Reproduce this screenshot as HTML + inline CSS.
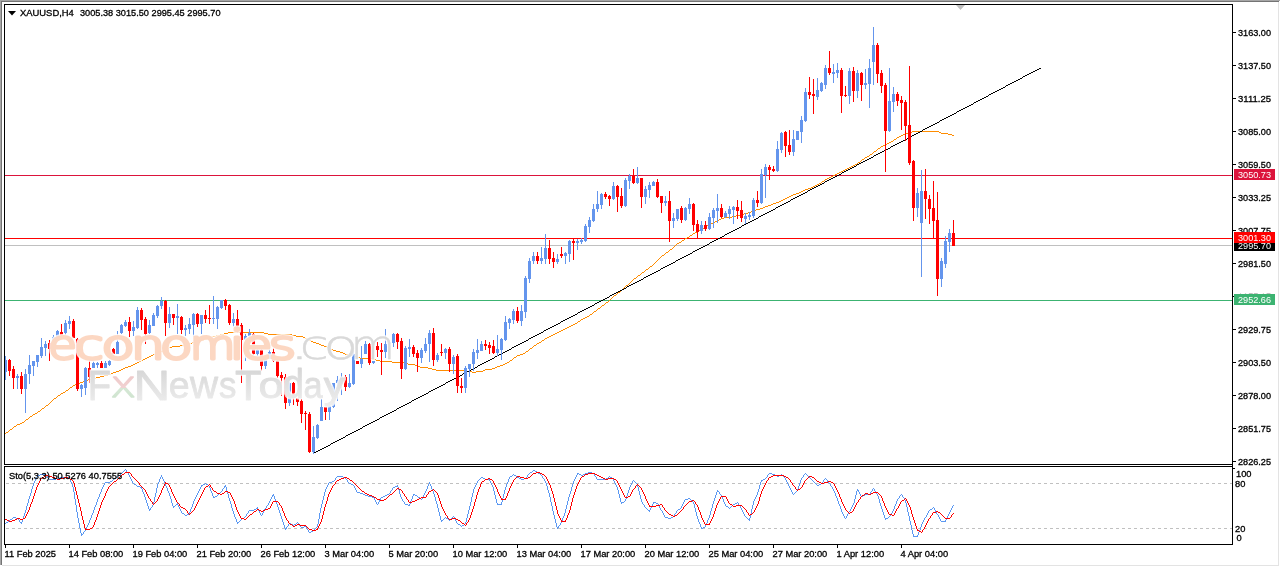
<!DOCTYPE html>
<html><head><meta charset="utf-8"><title>XAUUSD,H4</title>
<style>html,body{margin:0;padding:0;background:#fff;}body{width:1280px;height:567px;overflow:hidden;position:relative;font-family:"Liberation Sans",sans-serif;}svg{position:absolute;left:0;top:0;display:block;font-family:"Liberation Sans",sans-serif;}
.wm{position:absolute;white-space:nowrap;line-height:1;font-family:"Liberation Sans",sans-serif;}
</style></head><body>
<svg width="1280" height="567" viewBox="0 0 1280 567">
<g shape-rendering="crispEdges">
<rect x="0" y="0" width="1280" height="567" fill="#fff"/>
<rect x="0" y="0" width="1280" height="1" fill="#a6a6a6"/><rect x="0" y="1" width="1279" height="1" fill="#747474"/>
<rect x="0" y="0" width="1" height="565" fill="#a6a6a6"/><rect x="1" y="1" width="1" height="564" fill="#747474"/>
<rect x="1278" y="2" width="1" height="564" fill="#e3e3e3"/><rect x="2" y="565" width="1277" height="1" fill="#e3e3e3"/>
<g fill="#000">
<rect x="4" y="4" width="1229" height="1"/>
<rect x="4" y="4" width="1" height="461"/>
<rect x="4" y="464" width="1229" height="1"/>
<rect x="4" y="466" width="1229" height="1"/>
<rect x="4" y="466" width="1" height="79"/>
<rect x="4" y="544" width="1229" height="1"/>
<rect x="1232" y="4" width="1" height="541"/>
<rect x="1233" y="32" width="3" height="1"/>
<rect x="1233" y="65" width="3" height="1"/>
<rect x="1233" y="98" width="3" height="1"/>
<rect x="1233" y="131" width="3" height="1"/>
<rect x="1233" y="164" width="3" height="1"/>
<rect x="1233" y="197" width="3" height="1"/>
<rect x="1233" y="230" width="3" height="1"/>
<rect x="1233" y="263" width="3" height="1"/>
<rect x="1233" y="296" width="3" height="1"/>
<rect x="1233" y="329" width="3" height="1"/>
<rect x="1233" y="362" width="3" height="1"/>
<rect x="1233" y="395" width="3" height="1"/>
<rect x="1233" y="428" width="3" height="1"/>
<rect x="1233" y="461" width="3" height="1"/>
<rect x="5" y="545" width="1" height="3"/>
<rect x="69" y="545" width="1" height="3"/>
<rect x="133" y="545" width="1" height="3"/>
<rect x="197" y="545" width="1" height="3"/>
<rect x="261" y="545" width="1" height="3"/>
<rect x="325" y="545" width="1" height="3"/>
<rect x="389" y="545" width="1" height="3"/>
<rect x="453" y="545" width="1" height="3"/>
<rect x="517" y="545" width="1" height="3"/>
<rect x="581" y="545" width="1" height="3"/>
<rect x="645" y="545" width="1" height="3"/>
<rect x="709" y="545" width="1" height="3"/>
<rect x="773" y="545" width="1" height="3"/>
<rect x="837" y="545" width="1" height="3"/>
<rect x="901" y="545" width="1" height="3"/>
<rect x="1233" y="468" width="2" height="1"/>
</g>
<path d="M956 5h9l-4.5 5z" fill="#c0c0c0" shape-rendering="auto"/>
<rect x="5" y="175" width="1227" height="1" fill="#DC143C"/>
<rect x="5" y="245" width="1227" height="1" fill="#C0C0C0"/>
<rect x="5" y="238" width="1227" height="1" fill="#FF0000"/>
<rect x="5" y="300" width="1227" height="1" fill="#3CB371"/>
<path fill="#FF8C00" d="M912 131h27v1h-27zM908 132h4v1h-4zM939 132h2v1h-2zM905 133h3v1h-3zM941 133h7v1h-7zM903 134h2v1h-2zM948 134h4v1h-4zM901 135h2v1h-2zM952 135h2v1h-2zM899 136h2v1h-2zM897 137h2v1h-2zM896 138h1v1h-1zM894 139h2v1h-2zM893 140h1v1h-1zM891 141h2v1h-2zM889 142h2v1h-2zM887 143h2v1h-2zM885 144h2v1h-2zM883 145h2v1h-2zM881 146h2v1h-2zM880 147h1v1h-1zM878 148h2v1h-2zM877 149h1v1h-1zM876 150h1v1h-1zM874 151h2v1h-2zM873 152h1v1h-1zM872 153h1v1h-1zM870 154h2v1h-2zM869 155h1v1h-1zM867 156h2v1h-2zM865 157h2v1h-2zM864 158h1v1h-1zM862 159h2v1h-2zM861 160h1v1h-1zM860 161h1v1h-1zM858 162h2v1h-2zM857 163h1v1h-1zM855 164h2v1h-2zM853 165h2v1h-2zM851 166h2v1h-2zM849 167h2v1h-2zM847 168h2v1h-2zM845 169h2v1h-2zM843 170h2v1h-2zM841 171h2v1h-2zM839 172h2v1h-2zM837 173h2v1h-2zM835 174h2v1h-2zM833 175h2v1h-2zM831 176h2v1h-2zM829 177h2v1h-2zM827 178h2v1h-2zM825 179h2v1h-2zM824 180h1v1h-1zM822 181h2v1h-2zM821 182h1v1h-1zM819 183h2v1h-2zM817 184h2v1h-2zM815 185h2v1h-2zM813 186h2v1h-2zM811 187h2v1h-2zM808 188h3v1h-3zM805 189h3v1h-3zM803 190h2v1h-2zM801 191h2v1h-2zM799 192h2v1h-2zM796 193h3v1h-3zM793 194h3v1h-3zM791 195h2v1h-2zM789 196h2v1h-2zM787 197h2v1h-2zM785 198h2v1h-2zM783 199h2v1h-2zM781 200h2v1h-2zM779 201h2v1h-2zM776 202h3v1h-3zM773 203h3v1h-3zM771 204h2v1h-2zM768 205h3v1h-3zM765 206h3v1h-3zM763 207h2v1h-2zM760 208h3v1h-3zM756 209h4v1h-4zM753 210h3v1h-3zM751 211h2v1h-2zM748 212h3v1h-3zM744 213h4v1h-4zM740 214h4v1h-4zM736 215h4v1h-4zM732 216h4v1h-4zM724 217h8v1h-8zM721 218h3v1h-3zM719 219h2v1h-2zM717 220h2v1h-2zM715 221h2v1h-2zM713 222h2v1h-2zM711 223h2v1h-2zM709 224h2v1h-2zM707 225h2v1h-2zM705 226h2v1h-2zM704 227h1v1h-1zM702 228h2v1h-2zM701 229h1v1h-1zM699 230h2v1h-2zM697 231h2v1h-2zM695 232h2v1h-2zM693 233h2v1h-2zM692 234h1v1h-1zM690 235h2v1h-2zM689 236h1v1h-1zM687 237h2v1h-2zM685 238h2v1h-2zM684 239h1v1h-1zM682 240h2v1h-2zM681 241h1v1h-1zM679 242h2v1h-2zM677 243h2v1h-2zM676 244h1v1h-1zM675 245h1v1h-1zM674 246h1v1h-1zM673 247h1v1h-1zM672 248h1v1h-1zM670 249h2v1h-2zM669 250h1v1h-1zM668 251h1v1h-1zM666 252h2v1h-2zM665 253h1v1h-1zM664 254h1v1h-1zM662 255h2v1h-2zM661 256h1v1h-1zM660 257h1v1h-1zM659 258h1v1h-1zM658 259h1v1h-1zM657 260h1v1h-1zM656 261h1v1h-1zM655 262h1v1h-1zM654 263h1v1h-1zM653 264h1v1h-1zM652 265h1v1h-1zM650 266h2v1h-2zM649 267h1v1h-1zM648 268h1v1h-1zM646 269h2v1h-2zM645 270h1v1h-1zM644 271h1v1h-1zM642 272h2v1h-2zM641 273h1v1h-1zM640 274h1v1h-1zM638 275h2v1h-2zM637 276h1v1h-1zM636 277h1v1h-1zM634 278h2v1h-2zM633 279h1v1h-1zM632 280h1v1h-1zM631 281h1v1h-1zM630 282h1v1h-1zM629 283h1v1h-1zM628 284h1v1h-1zM626 285h2v1h-2zM625 286h1v1h-1zM624 287h1v1h-1zM623 288h1v1h-1zM622 289h1v1h-1zM621 290h1v1h-1zM620 291h1v1h-1zM618 292h2v1h-2zM617 293h1v1h-1zM616 294h1v1h-1zM614 295h2v1h-2zM613 296h1v1h-1zM612 297h1v1h-1zM611 298h1v1h-1zM610 299h1v1h-1zM609 300h1v1h-1zM608 301h1v1h-1zM606 302h2v1h-2zM605 303h1v1h-1zM604 304h1v1h-1zM602 305h2v1h-2zM601 306h1v1h-1zM600 307h1v1h-1zM598 308h2v1h-2zM597 309h1v1h-1zM596 310h1v1h-1zM594 311h2v1h-2zM593 312h1v1h-1zM592 313h1v1h-1zM590 314h2v1h-2zM589 315h1v1h-1zM587 316h2v1h-2zM585 317h2v1h-2zM583 318h2v1h-2zM581 319h2v1h-2zM580 320h1v1h-1zM578 321h2v1h-2zM577 322h1v1h-1zM575 323h2v1h-2zM573 324h2v1h-2zM571 325h2v1h-2zM569 326h2v1h-2zM567 327h2v1h-2zM565 328h2v1h-2zM563 329h2v1h-2zM561 330h2v1h-2zM559 331h2v1h-2zM228 332h36v1h-36zM557 332h2v1h-2zM224 333h4v1h-4zM264 333h4v1h-4zM555 333h2v1h-2zM220 334h4v1h-4zM268 334h24v1h-24zM553 334h2v1h-2zM216 335h4v1h-4zM292 335h4v1h-4zM551 335h2v1h-2zM212 336h4v1h-4zM296 336h7v1h-7zM549 336h2v1h-2zM209 337h3v1h-3zM303 337h2v1h-2zM547 337h2v1h-2zM207 338h2v1h-2zM305 338h2v1h-2zM545 338h2v1h-2zM204 339h3v1h-3zM307 339h2v1h-2zM544 339h1v1h-1zM200 340h4v1h-4zM309 340h2v1h-2zM542 340h2v1h-2zM196 341h4v1h-4zM311 341h2v1h-2zM541 341h1v1h-1zM192 342h4v1h-4zM313 342h3v1h-3zM539 342h2v1h-2zM188 343h4v1h-4zM316 343h3v1h-3zM537 343h2v1h-2zM184 344h4v1h-4zM319 344h2v1h-2zM536 344h1v1h-1zM180 345h4v1h-4zM321 345h3v1h-3zM534 345h2v1h-2zM172 346h8v1h-8zM324 346h3v1h-3zM533 346h1v1h-1zM169 347h3v1h-3zM327 347h2v1h-2zM532 347h1v1h-1zM167 348h2v1h-2zM329 348h2v1h-2zM530 348h2v1h-2zM165 349h2v1h-2zM331 349h2v1h-2zM529 349h1v1h-1zM163 350h2v1h-2zM333 350h3v1h-3zM528 350h1v1h-1zM160 351h3v1h-3zM336 351h4v1h-4zM526 351h2v1h-2zM157 352h3v1h-3zM340 352h3v1h-3zM525 352h1v1h-1zM155 353h2v1h-2zM343 353h2v1h-2zM523 353h2v1h-2zM153 354h2v1h-2zM345 354h3v1h-3zM520 354h3v1h-3zM151 355h2v1h-2zM348 355h4v1h-4zM517 355h3v1h-3zM149 356h2v1h-2zM352 356h4v1h-4zM516 356h1v1h-1zM147 357h2v1h-2zM356 357h4v1h-4zM514 357h2v1h-2zM145 358h2v1h-2zM360 358h12v1h-12zM513 358h1v1h-1zM143 359h2v1h-2zM372 359h4v1h-4zM512 359h1v1h-1zM141 360h2v1h-2zM376 360h4v1h-4zM510 360h2v1h-2zM139 361h2v1h-2zM380 361h12v1h-12zM509 361h1v1h-1zM137 362h2v1h-2zM392 362h12v1h-12zM507 362h2v1h-2zM135 363h2v1h-2zM404 363h4v1h-4zM505 363h2v1h-2zM133 364h2v1h-2zM408 364h7v1h-7zM503 364h2v1h-2zM131 365h2v1h-2zM415 365h2v1h-2zM500 365h3v1h-3zM128 366h3v1h-3zM417 366h3v1h-3zM497 366h3v1h-3zM125 367h3v1h-3zM420 367h8v1h-8zM495 367h2v1h-2zM123 368h2v1h-2zM428 368h4v1h-4zM492 368h3v1h-3zM121 369h2v1h-2zM432 369h4v1h-4zM485 369h7v1h-7zM119 370h2v1h-2zM436 370h28v1h-28zM483 370h2v1h-2zM116 371h3v1h-3zM464 371h8v1h-8zM476 371h7v1h-7zM113 372h3v1h-3zM472 372h4v1h-4zM111 373h2v1h-2zM108 374h3v1h-3zM104 375h4v1h-4zM100 376h4v1h-4zM96 377h4v1h-4zM92 378h4v1h-4zM88 379h4v1h-4zM85 380h3v1h-3zM83 381h2v1h-2zM80 382h3v1h-3zM77 383h3v1h-3zM75 384h2v1h-2zM73 385h2v1h-2zM72 386h1v1h-1zM70 387h2v1h-2zM69 388h1v1h-1zM68 389h1v1h-1zM66 390h2v1h-2zM65 391h1v1h-1zM63 392h2v1h-2zM61 393h2v1h-2zM60 394h1v1h-1zM58 395h2v1h-2zM57 396h1v1h-1zM56 397h1v1h-1zM54 398h2v1h-2zM53 399h1v1h-1zM52 400h1v1h-1zM51 401h1v1h-1zM50 402h1v1h-1zM49 403h1v1h-1zM48 404h1v1h-1zM46 405h2v1h-2zM45 406h1v1h-1zM44 407h1v1h-1zM42 408h2v1h-2zM41 409h1v1h-1zM40 410h1v1h-1zM38 411h2v1h-2zM37 412h1v1h-1zM35 413h2v1h-2zM33 414h2v1h-2zM32 415h1v1h-1zM30 416h2v1h-2zM29 417h1v1h-1zM28 418h1v1h-1zM26 419h2v1h-2zM25 420h1v1h-1zM24 421h1v1h-1zM22 422h2v1h-2zM20 423h2v1h-2zM17 424h3v1h-3zM16 425h1v1h-1zM14 426h2v1h-2zM13 427h1v1h-1zM12 428h1v1h-1zM10 429h2v1h-2zM9 430h1v1h-1zM8 431h1v1h-1zM6 432h2v1h-2zM5 433h1v1h-1z"/>
<path fill="#000" d="M1039 68h2v1h-2zM1037 69h2v1h-2zM1035 70h2v1h-2zM1033 71h2v1h-2zM1031 72h2v1h-2zM1029 73h2v1h-2zM1027 74h2v1h-2zM1025 75h2v1h-2zM1023 76h2v1h-2zM1022 77h1v1h-1zM1020 78h2v1h-2zM1018 79h2v1h-2zM1016 80h2v1h-2zM1014 81h2v1h-2zM1012 82h2v1h-2zM1010 83h2v1h-2zM1008 84h2v1h-2zM1006 85h2v1h-2zM1005 86h1v1h-1zM1003 87h2v1h-2zM1001 88h2v1h-2zM999 89h2v1h-2zM997 90h2v1h-2zM995 91h2v1h-2zM993 92h2v1h-2zM991 93h2v1h-2zM989 94h2v1h-2zM988 95h1v1h-1zM986 96h2v1h-2zM984 97h2v1h-2zM982 98h2v1h-2zM980 99h2v1h-2zM978 100h2v1h-2zM976 101h2v1h-2zM974 102h2v1h-2zM973 103h1v1h-1zM971 104h2v1h-2zM969 105h2v1h-2zM967 106h2v1h-2zM965 107h2v1h-2zM963 108h2v1h-2zM961 109h2v1h-2zM959 110h2v1h-2zM957 111h2v1h-2zM956 112h1v1h-1zM954 113h2v1h-2zM952 114h2v1h-2zM950 115h2v1h-2zM948 116h2v1h-2zM946 117h2v1h-2zM944 118h2v1h-2zM942 119h2v1h-2zM940 120h2v1h-2zM939 121h1v1h-1zM937 122h2v1h-2zM935 123h2v1h-2zM933 124h2v1h-2zM931 125h2v1h-2zM929 126h2v1h-2zM927 127h2v1h-2zM925 128h2v1h-2zM923 129h2v1h-2zM922 130h1v1h-1zM920 131h2v1h-2zM918 132h2v1h-2zM916 133h2v1h-2zM914 134h2v1h-2zM912 135h2v1h-2zM910 136h2v1h-2zM908 137h2v1h-2zM907 138h1v1h-1zM905 139h2v1h-2zM903 140h2v1h-2zM901 141h2v1h-2zM899 142h2v1h-2zM897 143h2v1h-2zM895 144h2v1h-2zM893 145h2v1h-2zM891 146h2v1h-2zM890 147h1v1h-1zM888 148h2v1h-2zM886 149h2v1h-2zM884 150h2v1h-2zM882 151h2v1h-2zM880 152h2v1h-2zM878 153h2v1h-2zM876 154h2v1h-2zM874 155h2v1h-2zM873 156h1v1h-1zM871 157h2v1h-2zM869 158h2v1h-2zM867 159h2v1h-2zM865 160h2v1h-2zM863 161h2v1h-2zM861 162h2v1h-2zM859 163h2v1h-2zM857 164h2v1h-2zM856 165h1v1h-1zM854 166h2v1h-2zM852 167h2v1h-2zM850 168h2v1h-2zM848 169h2v1h-2zM846 170h2v1h-2zM844 171h2v1h-2zM842 172h2v1h-2zM841 173h1v1h-1zM839 174h2v1h-2zM837 175h2v1h-2zM835 176h2v1h-2zM833 177h2v1h-2zM831 178h2v1h-2zM829 179h2v1h-2zM827 180h2v1h-2zM825 181h2v1h-2zM824 182h1v1h-1zM822 183h2v1h-2zM820 184h2v1h-2zM818 185h2v1h-2zM816 186h2v1h-2zM814 187h2v1h-2zM812 188h2v1h-2zM810 189h2v1h-2zM808 190h2v1h-2zM807 191h1v1h-1zM805 192h2v1h-2zM803 193h2v1h-2zM801 194h2v1h-2zM799 195h2v1h-2zM797 196h2v1h-2zM795 197h2v1h-2zM793 198h2v1h-2zM791 199h2v1h-2zM790 200h1v1h-1zM788 201h2v1h-2zM786 202h2v1h-2zM784 203h2v1h-2zM782 204h2v1h-2zM780 205h2v1h-2zM778 206h2v1h-2zM776 207h2v1h-2zM775 208h1v1h-1zM773 209h2v1h-2zM771 210h2v1h-2zM769 211h2v1h-2zM767 212h2v1h-2zM765 213h2v1h-2zM763 214h2v1h-2zM761 215h2v1h-2zM759 216h2v1h-2zM758 217h1v1h-1zM756 218h2v1h-2zM754 219h2v1h-2zM752 220h2v1h-2zM750 221h2v1h-2zM748 222h2v1h-2zM746 223h2v1h-2zM744 224h2v1h-2zM742 225h2v1h-2zM741 226h1v1h-1zM739 227h2v1h-2zM737 228h2v1h-2zM735 229h2v1h-2zM733 230h2v1h-2zM731 231h2v1h-2zM729 232h2v1h-2zM727 233h2v1h-2zM725 234h2v1h-2zM724 235h1v1h-1zM722 236h2v1h-2zM720 237h2v1h-2zM718 238h2v1h-2zM716 239h2v1h-2zM714 240h2v1h-2zM712 241h2v1h-2zM710 242h2v1h-2zM709 243h1v1h-1zM707 244h2v1h-2zM705 245h2v1h-2zM703 246h2v1h-2zM701 247h2v1h-2zM699 248h2v1h-2zM697 249h2v1h-2zM695 250h2v1h-2zM693 251h2v1h-2zM692 252h1v1h-1zM690 253h2v1h-2zM688 254h2v1h-2zM686 255h2v1h-2zM684 256h2v1h-2zM682 257h2v1h-2zM680 258h2v1h-2zM678 259h2v1h-2zM676 260h2v1h-2zM675 261h1v1h-1zM673 262h2v1h-2zM671 263h2v1h-2zM669 264h2v1h-2zM667 265h2v1h-2zM665 266h2v1h-2zM663 267h2v1h-2zM661 268h2v1h-2zM660 269h1v1h-1zM658 270h2v1h-2zM656 271h2v1h-2zM654 272h2v1h-2zM652 273h2v1h-2zM650 274h2v1h-2zM648 275h2v1h-2zM646 276h2v1h-2zM644 277h2v1h-2zM643 278h1v1h-1zM641 279h2v1h-2zM639 280h2v1h-2zM637 281h2v1h-2zM635 282h2v1h-2zM633 283h2v1h-2zM631 284h2v1h-2zM629 285h2v1h-2zM627 286h2v1h-2zM626 287h1v1h-1zM624 288h2v1h-2zM622 289h2v1h-2zM620 290h2v1h-2zM618 291h2v1h-2zM616 292h2v1h-2zM614 293h2v1h-2zM612 294h2v1h-2zM610 295h2v1h-2zM609 296h1v1h-1zM607 297h2v1h-2zM605 298h2v1h-2zM603 299h2v1h-2zM601 300h2v1h-2zM599 301h2v1h-2zM597 302h2v1h-2zM595 303h2v1h-2zM594 304h1v1h-1zM592 305h2v1h-2zM590 306h2v1h-2zM588 307h2v1h-2zM586 308h2v1h-2zM584 309h2v1h-2zM582 310h2v1h-2zM580 311h2v1h-2zM578 312h2v1h-2zM577 313h1v1h-1zM575 314h2v1h-2zM573 315h2v1h-2zM571 316h2v1h-2zM569 317h2v1h-2zM567 318h2v1h-2zM565 319h2v1h-2zM563 320h2v1h-2zM561 321h2v1h-2zM560 322h1v1h-1zM558 323h2v1h-2zM556 324h2v1h-2zM554 325h2v1h-2zM552 326h2v1h-2zM550 327h2v1h-2zM548 328h2v1h-2zM546 329h2v1h-2zM544 330h2v1h-2zM543 331h1v1h-1zM541 332h2v1h-2zM539 333h2v1h-2zM537 334h2v1h-2zM535 335h2v1h-2zM533 336h2v1h-2zM531 337h2v1h-2zM529 338h2v1h-2zM528 339h1v1h-1zM526 340h2v1h-2zM524 341h2v1h-2zM522 342h2v1h-2zM520 343h2v1h-2zM518 344h2v1h-2zM516 345h2v1h-2zM514 346h2v1h-2zM512 347h2v1h-2zM511 348h1v1h-1zM509 349h2v1h-2zM507 350h2v1h-2zM505 351h2v1h-2zM503 352h2v1h-2zM501 353h2v1h-2zM499 354h2v1h-2zM497 355h2v1h-2zM495 356h2v1h-2zM494 357h1v1h-1zM492 358h2v1h-2zM490 359h2v1h-2zM488 360h2v1h-2zM486 361h2v1h-2zM484 362h2v1h-2zM482 363h2v1h-2zM480 364h2v1h-2zM478 365h2v1h-2zM477 366h1v1h-1zM475 367h2v1h-2zM473 368h2v1h-2zM471 369h2v1h-2zM469 370h2v1h-2zM467 371h2v1h-2zM465 372h2v1h-2zM463 373h2v1h-2zM462 374h1v1h-1zM460 375h2v1h-2zM458 376h2v1h-2zM456 377h2v1h-2zM454 378h2v1h-2zM452 379h2v1h-2zM450 380h2v1h-2zM448 381h2v1h-2zM446 382h2v1h-2zM445 383h1v1h-1zM443 384h2v1h-2zM441 385h2v1h-2zM439 386h2v1h-2zM437 387h2v1h-2zM435 388h2v1h-2zM433 389h2v1h-2zM431 390h2v1h-2zM429 391h2v1h-2zM428 392h1v1h-1zM426 393h2v1h-2zM424 394h2v1h-2zM422 395h2v1h-2zM420 396h2v1h-2zM418 397h2v1h-2zM416 398h2v1h-2zM414 399h2v1h-2zM412 400h2v1h-2zM411 401h1v1h-1zM409 402h2v1h-2zM407 403h2v1h-2zM405 404h2v1h-2zM403 405h2v1h-2zM401 406h2v1h-2zM399 407h2v1h-2zM397 408h2v1h-2zM396 409h1v1h-1zM394 410h2v1h-2zM392 411h2v1h-2zM390 412h2v1h-2zM388 413h2v1h-2zM386 414h2v1h-2zM384 415h2v1h-2zM382 416h2v1h-2zM380 417h2v1h-2zM379 418h1v1h-1zM377 419h2v1h-2zM375 420h2v1h-2zM373 421h2v1h-2zM371 422h2v1h-2zM369 423h2v1h-2zM367 424h2v1h-2zM365 425h2v1h-2zM363 426h2v1h-2zM362 427h1v1h-1zM360 428h2v1h-2zM358 429h2v1h-2zM356 430h2v1h-2zM354 431h2v1h-2zM352 432h2v1h-2zM350 433h2v1h-2zM348 434h2v1h-2zM346 435h2v1h-2zM345 436h1v1h-1zM343 437h2v1h-2zM341 438h2v1h-2zM339 439h2v1h-2zM337 440h2v1h-2zM335 441h2v1h-2zM333 442h2v1h-2zM331 443h2v1h-2zM330 444h1v1h-1zM328 445h2v1h-2zM326 446h2v1h-2zM324 447h2v1h-2zM322 448h2v1h-2zM320 449h2v1h-2zM318 450h2v1h-2zM316 451h2v1h-2zM314 452h2v1h-2zM313 453h1v1h-1z"/>
<path fill="#6495ED" d="M5 356h1v24h-1zM5 360h2v12h-2zM17 374h1v15h-1zM16 376h3v2h-3zM25 369h1v44h-1zM24 374h3v15h-3zM29 355h1v29h-1zM28 365h3v9h-3zM33 361h1v15h-1zM32 361h3v5h-3zM37 355h1v12h-1zM36 355h3v7h-3zM41 338h1v20h-1zM40 347h3v9h-3zM45 341h1v15h-1zM44 344h3v4h-3zM53 335h1v11h-1zM52 337h3v6h-3zM57 330h1v10h-1zM56 331h3v6h-3zM65 320h1v15h-1zM64 323h3v10h-3zM69 316h1v13h-1zM68 321h3v3h-3zM81 384h1v13h-1zM80 385h3v4h-3zM85 367h1v28h-1zM84 368h3v20h-3zM93 361h1v7h-1zM92 363h3v5h-3zM97 362h1v6h-1zM96 363h3v2h-3zM105 361h1v7h-1zM104 363h3v5h-3zM109 360h1v6h-1zM108 361h3v4h-3zM117 331h1v23h-1zM116 342h3v12h-3zM121 324h1v10h-1zM120 325h3v8h-3zM125 320h1v7h-1zM124 322h3v4h-3zM133 321h1v15h-1zM132 327h3v4h-3zM137 307h1v22h-1zM136 310h3v18h-3zM149 320h1v14h-1zM148 325h3v8h-3zM153 313h1v13h-1zM152 315h3v11h-3zM157 305h1v13h-1zM156 306h3v10h-3zM161 297h1v12h-1zM160 301h3v5h-3zM169 307h1v21h-1zM168 314h3v9h-3zM177 304h1v30h-1zM176 316h3v2h-3zM185 325h1v11h-1zM184 328h3v2h-3zM189 318h1v16h-1zM188 324h3v5h-3zM193 313h1v24h-1zM192 314h3v11h-3zM201 315h1v19h-1zM200 315h3v9h-3zM213 296h1v28h-1zM212 318h3v1h-3zM217 306h1v23h-1zM216 307h3v12h-3zM221 300h1v9h-1zM220 300h3v8h-3zM233 313h1v14h-1zM232 319h3v4h-3zM245 334h1v27h-1zM244 336h3v4h-3zM249 329h1v14h-1zM248 333h3v3h-3zM257 349h1v7h-1zM256 350h3v4h-3zM265 358h1v11h-1zM264 359h3v7h-3zM269 346h1v13h-1zM268 352h3v7h-3zM289 382h1v24h-1zM288 383h3v20h-3zM313 426h1v28h-1zM312 437h3v15h-3zM317 424h1v15h-1zM316 425h3v13h-3zM321 399h1v22h-1zM320 407h3v14h-3zM329 402h1v18h-1zM328 406h3v6h-3zM333 383h1v25h-1zM332 383h3v24h-3zM337 376h1v25h-1zM336 380h3v3h-3zM341 373h1v22h-1zM340 377h3v3h-3zM349 374h1v14h-1zM348 383h3v4h-3zM353 352h1v33h-1zM352 354h3v30h-3zM361 346h1v22h-1zM360 359h3v5h-3zM365 341h1v13h-1zM364 344h3v10h-3zM373 361h1v3h-1zM372 361h3v2h-3zM385 329h1v29h-1zM384 344h3v8h-3zM389 341h1v4h-1zM388 342h3v2h-3zM393 333h1v14h-1zM392 334h3v9h-3zM405 346h1v24h-1zM404 348h3v21h-3zM409 339h1v18h-1zM408 347h3v2h-3zM421 348h1v15h-1zM420 350h3v8h-3zM425 338h1v15h-1zM424 344h3v7h-3zM429 330h1v32h-1zM428 333h3v11h-3zM437 353h1v9h-1zM436 355h3v5h-3zM445 348h1v11h-1zM444 349h3v4h-3zM453 355h1v19h-1zM452 357h3v7h-3zM465 366h1v27h-1zM464 368h3v20h-3zM469 364h1v13h-1zM468 364h3v5h-3zM473 349h1v22h-1zM472 352h3v12h-3zM477 339h1v20h-1zM476 350h3v3h-3zM481 341h1v10h-1zM480 344h3v7h-3zM497 335h1v21h-1zM496 349h3v4h-3zM501 338h1v22h-1zM500 339h3v11h-3zM505 316h1v25h-1zM504 322h3v18h-3zM509 318h1v11h-1zM508 319h3v4h-3zM513 309h1v15h-1zM512 311h3v9h-3zM521 305h1v21h-1zM520 311h3v10h-3zM525 276h1v42h-1zM524 278h3v34h-3zM529 258h1v25h-1zM528 261h3v18h-3zM533 252h1v12h-1zM532 256h3v5h-3zM541 247h1v17h-1zM540 258h3v3h-3zM545 234h1v30h-1zM544 248h3v11h-3zM557 254h1v10h-1zM556 259h3v3h-3zM565 252h1v12h-1zM564 253h3v3h-3zM569 240h1v22h-1zM568 241h3v13h-3zM577 239h1v11h-1zM576 241h3v2h-3zM581 238h1v6h-1zM580 240h3v2h-3zM585 224h1v18h-1zM584 226h3v15h-3zM589 217h1v16h-1zM588 220h3v7h-3zM593 204h1v18h-1zM592 209h3v12h-3zM597 191h1v21h-1zM596 204h3v5h-3zM601 193h1v16h-1zM600 194h3v11h-3zM613 182h1v18h-1zM612 186h3v13h-3zM625 178h1v29h-1zM624 180h3v26h-3zM629 174h1v15h-1zM628 176h3v5h-3zM637 167h1v17h-1zM636 178h3v5h-3zM645 186h1v18h-1zM644 189h3v8h-3zM649 182h1v16h-1zM648 185h3v5h-3zM653 181h1v5h-1zM652 182h3v4h-3zM665 196h1v10h-1zM664 201h3v2h-3zM673 213h1v15h-1zM672 218h3v3h-3zM677 209h1v12h-1zM676 209h3v10h-3zM685 207h1v14h-1zM684 208h3v12h-3zM689 198h1v16h-1zM688 204h3v5h-3zM701 221h1v13h-1zM700 225h3v6h-3zM709 213h1v17h-1zM708 217h3v12h-3zM713 208h1v20h-1zM712 210h3v8h-3zM717 194h1v29h-1zM716 208h3v3h-3zM725 211h1v7h-1zM724 213h3v4h-3zM729 206h1v13h-1zM728 209h3v5h-3zM733 206h1v18h-1zM732 207h3v3h-3zM745 213h1v11h-1zM744 216h3v3h-3zM749 212h1v8h-1zM748 215h3v2h-3zM753 198h1v20h-1zM752 200h3v16h-3zM761 169h1v35h-1zM760 174h3v29h-3zM765 164h1v34h-1zM764 167h3v8h-3zM777 141h1v31h-1zM776 149h3v22h-3zM781 132h1v21h-1zM780 133h3v17h-3zM793 130h1v26h-1zM792 139h3v13h-3zM797 131h1v9h-1zM796 131h3v9h-3zM801 116h1v27h-1zM800 120h3v12h-3zM805 88h1v34h-1zM804 92h3v29h-3zM817 78h1v22h-1zM816 90h3v7h-3zM821 82h1v10h-1zM820 83h3v8h-3zM825 65h1v24h-1zM824 68h3v17h-3zM833 64h1v19h-1zM832 72h3v2h-3zM837 63h1v15h-1zM836 70h3v3h-3zM849 68h1v36h-1zM848 71h3v25h-3zM857 70h1v28h-1zM856 73h3v18h-3zM865 69h1v20h-1zM864 83h3v2h-3zM869 59h1v49h-1zM868 68h3v16h-3zM873 27h1v58h-1zM872 45h3v17h-3zM889 68h1v64h-1zM888 101h3v30h-3zM893 87h1v25h-1zM892 94h3v8h-3zM917 188h1v29h-1zM916 193h3v15h-3zM921 170h1v107h-1zM920 191h3v32h-3zM941 258h1v29h-1zM940 261h3v18h-3zM945 236h1v32h-1zM944 241h3v23h-3zM949 229h1v23h-1zM948 233h3v9h-3z"/>
<path fill="#FF0000" d="M9 359h1v17h-1zM8 360h3v11h-3zM13 366h1v23h-1zM12 369h3v9h-3zM21 372h1v22h-1zM20 376h3v13h-3zM49 340h1v21h-1zM48 343h3v6h-3zM61 324h1v14h-1zM60 332h3v3h-3zM73 319h1v19h-1zM72 321h3v17h-3zM77 338h1v53h-1zM76 339h3v50h-3zM89 361h1v22h-1zM88 368h3v9h-3zM101 361h1v7h-1zM100 363h3v5h-3zM113 348h1v6h-1zM112 349h3v5h-3zM129 317h1v20h-1zM128 322h3v9h-3zM141 308h1v22h-1zM140 310h3v10h-3zM145 317h1v27h-1zM144 319h3v15h-3zM165 300h1v36h-1zM164 301h3v22h-3zM173 314h1v11h-1zM172 314h3v4h-3zM181 316h1v18h-1zM180 317h3v13h-3zM197 313h1v14h-1zM196 314h3v10h-3zM205 310h1v13h-1zM204 315h3v4h-3zM209 305h1v19h-1zM208 318h3v1h-3zM225 299h1v11h-1zM224 300h3v6h-3zM229 304h1v21h-1zM228 305h3v18h-3zM237 310h1v23h-1zM236 319h3v7h-3zM241 323h1v60h-1zM240 325h3v15h-3zM253 333h1v22h-1zM252 334h3v20h-3zM261 349h1v22h-1zM260 350h3v16h-3zM273 348h1v14h-1zM272 352h3v9h-3zM277 360h1v18h-1zM276 361h3v15h-3zM281 372h1v24h-1zM280 375h3v3h-3zM285 374h1v35h-1zM284 377h3v26h-3zM293 382h1v23h-1zM292 383h3v15h-3zM297 398h1v8h-1zM296 398h3v4h-3zM301 399h1v24h-1zM300 401h3v13h-3zM305 411h1v19h-1zM304 413h3v1h-3zM309 412h1v41h-1zM308 414h3v38h-3zM325 407h1v13h-1zM324 407h3v5h-3zM345 375h1v16h-1zM344 377h3v10h-3zM357 361h1v3h-1zM356 361h3v3h-3zM369 343h1v22h-1zM368 344h3v19h-3zM377 342h1v15h-1zM376 346h3v4h-3zM381 343h1v32h-1zM380 350h3v2h-3zM397 333h1v16h-1zM396 334h3v8h-3zM401 338h1v41h-1zM400 341h3v28h-3zM413 345h1v12h-1zM412 347h3v7h-3zM417 350h1v22h-1zM416 353h3v5h-3zM433 328h1v38h-1zM432 333h3v27h-3zM441 344h1v12h-1zM440 352h3v1h-3zM449 347h1v25h-1zM448 349h3v15h-3zM457 354h1v39h-1zM456 356h3v30h-3zM461 378h1v15h-1zM460 386h3v2h-3zM485 340h1v10h-1zM484 344h3v2h-3zM489 342h1v12h-1zM488 345h3v3h-3zM493 340h1v14h-1zM492 346h3v7h-3zM517 307h1v16h-1zM516 311h3v10h-3zM537 252h1v12h-1zM536 256h3v5h-3zM549 240h1v24h-1zM548 248h3v11h-3zM553 252h1v16h-1zM552 258h3v4h-3zM561 247h1v11h-1zM560 254h3v2h-3zM573 238h1v22h-1zM572 241h3v2h-3zM605 192h1v7h-1zM604 194h3v3h-3zM609 195h1v11h-1zM608 196h3v3h-3zM617 185h1v27h-1zM616 186h3v11h-3zM621 188h1v20h-1zM620 196h3v10h-3zM633 169h1v15h-1zM632 176h3v7h-3zM641 178h1v30h-1zM640 178h3v19h-3zM657 179h1v19h-1zM656 182h3v15h-3zM661 196h1v17h-1zM660 196h3v7h-3zM669 191h1v51h-1zM668 201h3v20h-3zM681 206h1v17h-1zM680 208h3v12h-3zM693 203h1v28h-1zM692 204h3v21h-3zM697 220h1v18h-1zM696 224h3v8h-3zM705 221h1v10h-1zM704 225h3v4h-3zM721 204h1v14h-1zM720 208h3v9h-3zM737 200h1v19h-1zM736 207h3v4h-3zM741 201h1v21h-1zM740 210h3v8h-3zM757 191h1v16h-1zM756 200h3v3h-3zM769 165h1v15h-1zM768 167h3v3h-3zM773 166h1v6h-1zM772 169h3v2h-3zM785 131h1v26h-1zM784 132h3v14h-3zM789 130h1v25h-1zM788 145h3v7h-3zM809 77h1v22h-1zM808 92h3v3h-3zM813 79h1v35h-1zM812 94h3v2h-3zM829 51h1v24h-1zM828 68h3v5h-3zM841 68h1v45h-1zM840 70h3v26h-3zM845 86h1v11h-1zM844 95h3v1h-3zM853 67h1v35h-1zM852 71h3v20h-3zM861 72h1v29h-1zM860 73h3v12h-3zM877 43h1v40h-1zM876 45h3v29h-3zM881 70h1v23h-1zM880 73h3v13h-3zM885 83h1v89h-1zM884 85h3v46h-3zM897 92h1v14h-1zM896 94h3v7h-3zM901 96h1v34h-1zM900 100h3v3h-3zM905 100h1v41h-1zM904 102h3v24h-3zM909 66h1v99h-1zM908 125h3v38h-3zM913 160h1v61h-1zM912 161h3v47h-3zM925 169h1v50h-1zM924 191h3v8h-3zM929 195h1v29h-1zM928 199h3v10h-3zM933 181h1v57h-1zM932 208h3v13h-3zM937 192h1v104h-1zM936 220h3v59h-3zM953 220h1v26h-1zM952 233h3v13h-3z"/>

<g stroke="#C0C0C0" stroke-width="1" stroke-dasharray="3 3"><line x1="6" y1="483.5" x2="1232" y2="483.5"/><line x1="6" y1="528.5" x2="1232" y2="528.5"/></g>
<path fill="#5B98F2" d="M125 469h1v1h-1zM124 470h1v1h-1zM126 470h1v1h-1zM533 470h2v1h-2zM123 471h1v1h-1zM126 471h1v1h-1zM532 471h1v1h-1zM535 471h2v1h-2zM122 472h1v1h-1zM127 472h1v1h-1zM530 472h2v1h-2zM537 472h1v1h-1zM588 472h4v1h-4zM121 473h1v1h-1zM128 473h1v1h-1zM529 473h1v1h-1zM538 473h2v1h-2zM577 473h2v1h-2zM585 473h3v1h-3zM592 473h2v1h-2zM769 473h3v1h-3zM805 473h1v1h-1zM40 474h6v1h-6zM120 474h1v1h-1zM128 474h1v1h-1zM513 474h1v1h-1zM528 474h1v1h-1zM540 474h1v1h-1zM577 474h1v1h-1zM579 474h2v1h-2zM583 474h2v1h-2zM594 474h1v1h-1zM768 474h1v1h-1zM772 474h3v1h-3zM781 474h1v1h-1zM804 474h1v1h-1zM806 474h1v1h-1zM37 475h3v1h-3zM46 475h1v1h-1zM118 475h2v1h-2zM129 475h1v1h-1zM161 475h1v1h-1zM512 475h1v1h-1zM514 475h2v1h-2zM527 475h1v1h-1zM541 475h1v1h-1zM576 475h1v1h-1zM581 475h2v1h-2zM594 475h1v1h-1zM767 475h1v1h-1zM775 475h2v1h-2zM779 475h2v1h-2zM782 475h1v1h-1zM803 475h1v1h-1zM807 475h1v1h-1zM37 476h1v1h-1zM47 476h1v1h-1zM117 476h1v1h-1zM129 476h1v1h-1zM161 476h1v1h-1zM337 476h6v1h-6zM510 476h2v1h-2zM516 476h1v1h-1zM527 476h1v1h-1zM542 476h1v1h-1zM576 476h1v1h-1zM595 476h1v1h-1zM609 476h1v1h-1zM767 476h1v1h-1zM777 476h2v1h-2zM783 476h1v1h-1zM803 476h1v1h-1zM808 476h1v1h-1zM36 477h1v1h-1zM47 477h1v1h-1zM60 477h10v1h-10zM116 477h1v1h-1zM130 477h1v1h-1zM160 477h1v1h-1zM162 477h1v1h-1zM336 477h1v1h-1zM343 477h2v1h-2zM481 477h2v1h-2zM509 477h1v1h-1zM517 477h2v1h-2zM526 477h1v1h-1zM542 477h1v1h-1zM575 477h1v1h-1zM596 477h1v1h-1zM608 477h1v1h-1zM610 477h2v1h-2zM766 477h1v1h-1zM784 477h1v1h-1zM802 477h1v1h-1zM809 477h1v1h-1zM36 478h1v1h-1zM48 478h1v1h-1zM56 478h4v1h-4zM69 478h1v1h-1zM114 478h2v1h-2zM130 478h1v1h-1zM160 478h1v1h-1zM162 478h1v1h-1zM335 478h1v1h-1zM345 478h1v1h-1zM480 478h1v1h-1zM483 478h2v1h-2zM509 478h1v1h-1zM519 478h2v1h-2zM524 478h2v1h-2zM543 478h1v1h-1zM575 478h1v1h-1zM596 478h1v1h-1zM606 478h2v1h-2zM612 478h1v1h-1zM765 478h1v1h-1zM785 478h1v1h-1zM801 478h1v1h-1zM810 478h1v1h-1zM825 478h1v1h-1zM35 479h1v1h-1zM49 479h7v1h-7zM70 479h1v1h-1zM113 479h1v1h-1zM131 479h1v1h-1zM159 479h1v1h-1zM163 479h1v1h-1zM335 479h1v1h-1zM346 479h1v1h-1zM479 479h1v1h-1zM485 479h5v1h-5zM508 479h1v1h-1zM521 479h3v1h-3zM544 479h1v1h-1zM574 479h1v1h-1zM597 479h9v1h-9zM613 479h1v1h-1zM763 479h2v1h-2zM785 479h1v1h-1zM801 479h1v1h-1zM811 479h1v1h-1zM824 479h1v1h-1zM826 479h1v1h-1zM35 480h1v1h-1zM70 480h1v1h-1zM112 480h1v1h-1zM131 480h1v1h-1zM159 480h1v1h-1zM163 480h1v1h-1zM334 480h1v1h-1zM347 480h1v1h-1zM478 480h1v1h-1zM489 480h1v1h-1zM508 480h1v1h-1zM544 480h1v1h-1zM574 480h1v1h-1zM613 480h1v1h-1zM633 480h1v1h-1zM761 480h2v1h-2zM786 480h1v1h-1zM800 480h1v1h-1zM812 480h1v1h-1zM823 480h1v1h-1zM827 480h1v1h-1zM34 481h1v1h-1zM70 481h1v1h-1zM110 481h2v1h-2zM132 481h1v1h-1zM159 481h1v1h-1zM164 481h1v1h-1zM332 481h2v1h-2zM347 481h1v1h-1zM477 481h1v1h-1zM490 481h1v1h-1zM508 481h1v1h-1zM545 481h1v1h-1zM573 481h1v1h-1zM614 481h1v1h-1zM632 481h1v1h-1zM634 481h1v1h-1zM761 481h1v1h-1zM786 481h1v1h-1zM800 481h1v1h-1zM813 481h1v1h-1zM823 481h1v1h-1zM827 481h1v1h-1zM34 482h1v1h-1zM71 482h1v1h-1zM105 482h5v1h-5zM132 482h1v1h-1zM158 482h1v1h-1zM164 482h1v1h-1zM329 482h3v1h-3zM348 482h1v1h-1zM429 482h1v1h-1zM477 482h1v1h-1zM490 482h1v1h-1zM507 482h1v1h-1zM545 482h1v1h-1zM573 482h1v1h-1zM614 482h1v1h-1zM632 482h1v1h-1zM635 482h1v1h-1zM760 482h1v1h-1zM787 482h1v1h-1zM800 482h1v1h-1zM814 482h1v1h-1zM822 482h1v1h-1zM828 482h1v1h-1zM33 483h1v1h-1zM71 483h1v1h-1zM104 483h1v1h-1zM133 483h1v1h-1zM158 483h1v1h-1zM165 483h1v1h-1zM205 483h1v1h-1zM328 483h1v1h-1zM349 483h2v1h-2zM429 483h1v1h-1zM476 483h1v1h-1zM491 483h1v1h-1zM507 483h1v1h-1zM546 483h1v1h-1zM573 483h1v1h-1zM615 483h1v1h-1zM631 483h1v1h-1zM636 483h1v1h-1zM760 483h1v1h-1zM787 483h1v1h-1zM799 483h1v1h-1zM815 483h1v1h-1zM821 483h1v1h-1zM829 483h1v1h-1zM33 484h1v1h-1zM72 484h1v1h-1zM104 484h1v1h-1zM134 484h2v1h-2zM157 484h1v1h-1zM165 484h1v1h-1zM203 484h2v1h-2zM206 484h2v1h-2zM328 484h1v1h-1zM351 484h2v1h-2zM428 484h1v1h-1zM430 484h1v1h-1zM476 484h1v1h-1zM491 484h1v1h-1zM506 484h1v1h-1zM546 484h1v1h-1zM572 484h1v1h-1zM615 484h1v1h-1zM631 484h1v1h-1zM637 484h1v1h-1zM760 484h1v1h-1zM788 484h1v1h-1zM799 484h1v1h-1zM816 484h1v1h-1zM819 484h2v1h-2zM830 484h1v1h-1zM33 485h1v1h-1zM72 485h1v1h-1zM103 485h1v1h-1zM136 485h1v1h-1zM157 485h1v1h-1zM165 485h1v1h-1zM201 485h2v1h-2zM208 485h1v1h-1zM225 485h1v1h-1zM327 485h1v1h-1zM353 485h1v1h-1zM397 485h1v1h-1zM428 485h1v1h-1zM430 485h1v1h-1zM475 485h1v1h-1zM492 485h1v1h-1zM506 485h1v1h-1zM546 485h1v1h-1zM572 485h1v1h-1zM616 485h1v1h-1zM630 485h1v1h-1zM637 485h1v1h-1zM759 485h1v1h-1zM788 485h1v1h-1zM799 485h1v1h-1zM817 485h2v1h-2zM830 485h1v1h-1zM32 486h1v1h-1zM72 486h1v1h-1zM103 486h1v1h-1zM137 486h3v1h-3zM157 486h1v1h-1zM166 486h1v1h-1zM201 486h1v1h-1zM209 486h1v1h-1zM224 486h2v1h-2zM327 486h1v1h-1zM354 486h1v1h-1zM395 486h3v1h-3zM427 486h1v1h-1zM431 486h1v1h-1zM475 486h1v1h-1zM492 486h1v1h-1zM506 486h1v1h-1zM547 486h1v1h-1zM572 486h1v1h-1zM616 486h1v1h-1zM630 486h1v1h-1zM637 486h1v1h-1zM759 486h1v1h-1zM789 486h1v1h-1zM798 486h1v1h-1zM831 486h1v1h-1zM32 487h1v1h-1zM73 487h1v1h-1zM102 487h1v1h-1zM140 487h2v1h-2zM157 487h1v1h-1zM166 487h1v1h-1zM200 487h1v1h-1zM209 487h1v1h-1zM224 487h1v1h-1zM226 487h1v1h-1zM326 487h1v1h-1zM354 487h1v1h-1zM393 487h2v1h-2zM398 487h1v1h-1zM427 487h1v1h-1zM431 487h1v1h-1zM474 487h1v1h-1zM493 487h1v1h-1zM505 487h1v1h-1zM547 487h1v1h-1zM571 487h1v1h-1zM617 487h1v1h-1zM629 487h1v1h-1zM638 487h1v1h-1zM759 487h1v1h-1zM789 487h1v1h-1zM798 487h1v1h-1zM832 487h1v1h-1zM32 488h1v1h-1zM73 488h1v1h-1zM102 488h1v1h-1zM141 488h1v1h-1zM156 488h1v1h-1zM167 488h1v1h-1zM200 488h1v1h-1zM210 488h1v1h-1zM223 488h1v1h-1zM226 488h1v1h-1zM326 488h1v1h-1zM355 488h1v1h-1zM392 488h1v1h-1zM398 488h1v1h-1zM427 488h1v1h-1zM431 488h1v1h-1zM474 488h1v1h-1zM493 488h1v1h-1zM505 488h1v1h-1zM547 488h1v1h-1zM571 488h1v1h-1zM617 488h1v1h-1zM629 488h1v1h-1zM638 488h1v1h-1zM759 488h1v1h-1zM790 488h1v1h-1zM798 488h1v1h-1zM832 488h1v1h-1zM873 488h1v1h-1zM31 489h1v1h-1zM73 489h1v1h-1zM101 489h1v1h-1zM142 489h1v1h-1zM156 489h1v1h-1zM167 489h1v1h-1zM199 489h1v1h-1zM210 489h1v1h-1zM222 489h1v1h-1zM226 489h1v1h-1zM325 489h1v1h-1zM355 489h1v1h-1zM392 489h1v1h-1zM398 489h1v1h-1zM426 489h1v1h-1zM432 489h1v1h-1zM473 489h1v1h-1zM493 489h1v1h-1zM505 489h1v1h-1zM547 489h1v1h-1zM571 489h1v1h-1zM617 489h1v1h-1zM629 489h1v1h-1zM638 489h1v1h-1zM758 489h1v1h-1zM790 489h1v1h-1zM797 489h1v1h-1zM833 489h1v1h-1zM857 489h1v1h-1zM872 489h1v1h-1zM874 489h1v1h-1zM31 490h1v1h-1zM73 490h1v1h-1zM101 490h1v1h-1zM142 490h1v1h-1zM156 490h1v1h-1zM167 490h1v1h-1zM199 490h1v1h-1zM210 490h1v1h-1zM222 490h1v1h-1zM226 490h1v1h-1zM325 490h1v1h-1zM356 490h1v1h-1zM391 490h1v1h-1zM399 490h1v1h-1zM426 490h1v1h-1zM432 490h1v1h-1zM473 490h1v1h-1zM493 490h1v1h-1zM504 490h1v1h-1zM548 490h1v1h-1zM571 490h1v1h-1zM618 490h1v1h-1zM628 490h1v1h-1zM638 490h1v1h-1zM717 490h1v1h-1zM758 490h1v1h-1zM791 490h1v1h-1zM797 490h1v1h-1zM833 490h1v1h-1zM857 490h2v1h-2zM872 490h1v1h-1zM874 490h1v1h-1zM31 491h1v1h-1zM73 491h1v1h-1zM101 491h1v1h-1zM142 491h1v1h-1zM156 491h1v1h-1zM168 491h1v1h-1zM198 491h1v1h-1zM211 491h1v1h-1zM221 491h1v1h-1zM227 491h1v1h-1zM325 491h1v1h-1zM356 491h1v1h-1zM390 491h1v1h-1zM399 491h1v1h-1zM425 491h1v1h-1zM433 491h1v1h-1zM473 491h1v1h-1zM494 491h1v1h-1zM504 491h1v1h-1zM548 491h1v1h-1zM570 491h1v1h-1zM618 491h1v1h-1zM628 491h1v1h-1zM639 491h1v1h-1zM717 491h2v1h-2zM758 491h1v1h-1zM791 491h1v1h-1zM796 491h1v1h-1zM834 491h1v1h-1zM856 491h1v1h-1zM858 491h1v1h-1zM871 491h1v1h-1zM875 491h1v1h-1zM31 492h1v1h-1zM74 492h1v1h-1zM100 492h1v1h-1zM143 492h1v1h-1zM156 492h1v1h-1zM168 492h1v1h-1zM198 492h1v1h-1zM211 492h1v1h-1zM220 492h1v1h-1zM227 492h1v1h-1zM324 492h1v1h-1zM357 492h3v1h-3zM390 492h1v1h-1zM399 492h1v1h-1zM425 492h1v1h-1zM433 492h1v1h-1zM473 492h1v1h-1zM494 492h1v1h-1zM504 492h1v1h-1zM548 492h1v1h-1zM570 492h1v1h-1zM618 492h1v1h-1zM628 492h1v1h-1zM639 492h1v1h-1zM716 492h1v1h-1zM719 492h1v1h-1zM757 492h1v1h-1zM792 492h1v1h-1zM795 492h1v1h-1zM834 492h1v1h-1zM856 492h1v1h-1zM859 492h1v1h-1zM870 492h1v1h-1zM876 492h1v1h-1zM30 493h1v1h-1zM74 493h1v1h-1zM100 493h1v1h-1zM143 493h1v1h-1zM155 493h1v1h-1zM169 493h1v1h-1zM197 493h1v1h-1zM212 493h1v1h-1zM219 493h1v1h-1zM227 493h1v1h-1zM324 493h1v1h-1zM360 493h3v1h-3zM389 493h1v1h-1zM399 493h1v1h-1zM424 493h1v1h-1zM433 493h1v1h-1zM472 493h1v1h-1zM494 493h1v1h-1zM504 493h1v1h-1zM549 493h1v1h-1zM570 493h1v1h-1zM618 493h1v1h-1zM627 493h1v1h-1zM639 493h1v1h-1zM716 493h1v1h-1zM719 493h1v1h-1zM757 493h1v1h-1zM792 493h1v1h-1zM794 493h1v1h-1zM835 493h1v1h-1zM856 493h1v1h-1zM859 493h1v1h-1zM870 493h1v1h-1zM876 493h1v1h-1zM30 494h1v1h-1zM74 494h1v1h-1zM99 494h1v1h-1zM144 494h1v1h-1zM155 494h1v1h-1zM169 494h1v1h-1zM197 494h1v1h-1zM212 494h1v1h-1zM218 494h1v1h-1zM228 494h1v1h-1zM273 494h1v1h-1zM324 494h1v1h-1zM363 494h2v1h-2zM387 494h2v1h-2zM400 494h1v1h-1zM413 494h2v1h-2zM424 494h1v1h-1zM434 494h1v1h-1zM472 494h1v1h-1zM494 494h1v1h-1zM503 494h1v1h-1zM549 494h1v1h-1zM569 494h1v1h-1zM619 494h1v1h-1zM627 494h1v1h-1zM639 494h1v1h-1zM716 494h1v1h-1zM720 494h1v1h-1zM757 494h1v1h-1zM793 494h1v1h-1zM835 494h1v1h-1zM856 494h1v1h-1zM860 494h1v1h-1zM865 494h5v1h-5zM877 494h1v1h-1zM901 494h1v1h-1zM30 495h1v1h-1zM74 495h1v1h-1zM99 495h1v1h-1zM144 495h1v1h-1zM155 495h1v1h-1zM169 495h1v1h-1zM196 495h1v1h-1zM212 495h1v1h-1zM217 495h1v1h-1zM228 495h1v1h-1zM272 495h2v1h-2zM324 495h1v1h-1zM365 495h3v1h-3zM385 495h2v1h-2zM400 495h1v1h-1zM413 495h1v1h-1zM415 495h2v1h-2zM423 495h1v1h-1zM434 495h1v1h-1zM472 495h1v1h-1zM495 495h1v1h-1zM503 495h1v1h-1zM549 495h1v1h-1zM569 495h1v1h-1zM619 495h1v1h-1zM627 495h1v1h-1zM640 495h1v1h-1zM715 495h1v1h-1zM721 495h1v1h-1zM756 495h1v1h-1zM835 495h1v1h-1zM855 495h1v1h-1zM860 495h1v1h-1zM863 495h2v1h-2zM877 495h1v1h-1zM900 495h1v1h-1zM902 495h1v1h-1zM29 496h1v1h-1zM74 496h1v1h-1zM99 496h1v1h-1zM144 496h1v1h-1zM155 496h1v1h-1zM170 496h1v1h-1zM196 496h1v1h-1zM213 496h1v1h-1zM215 496h2v1h-2zM228 496h1v1h-1zM272 496h1v1h-1zM274 496h1v1h-1zM323 496h1v1h-1zM368 496h4v1h-4zM383 496h2v1h-2zM400 496h1v1h-1zM412 496h1v1h-1zM417 496h1v1h-1zM423 496h1v1h-1zM434 496h1v1h-1zM472 496h1v1h-1zM495 496h1v1h-1zM503 496h1v1h-1zM549 496h1v1h-1zM569 496h1v1h-1zM619 496h1v1h-1zM626 496h1v1h-1zM640 496h1v1h-1zM715 496h1v1h-1zM721 496h1v1h-1zM756 496h1v1h-1zM836 496h1v1h-1zM855 496h1v1h-1zM861 496h2v1h-2zM878 496h1v1h-1zM899 496h1v1h-1zM902 496h1v1h-1zM29 497h1v1h-1zM74 497h1v1h-1zM98 497h1v1h-1zM145 497h1v1h-1zM154 497h1v1h-1zM170 497h1v1h-1zM195 497h1v1h-1zM213 497h2v1h-2zM228 497h1v1h-1zM271 497h1v1h-1zM274 497h1v1h-1zM323 497h1v1h-1zM372 497h2v1h-2zM381 497h2v1h-2zM401 497h1v1h-1zM412 497h1v1h-1zM418 497h2v1h-2zM422 497h1v1h-1zM435 497h1v1h-1zM471 497h1v1h-1zM495 497h1v1h-1zM503 497h1v1h-1zM550 497h1v1h-1zM568 497h1v1h-1zM619 497h1v1h-1zM626 497h1v1h-1zM640 497h1v1h-1zM715 497h1v1h-1zM722 497h1v1h-1zM755 497h1v1h-1zM836 497h1v1h-1zM855 497h1v1h-1zM878 497h1v1h-1zM899 497h1v1h-1zM903 497h1v1h-1zM29 498h1v1h-1zM74 498h1v1h-1zM98 498h1v1h-1zM145 498h1v1h-1zM154 498h1v1h-1zM170 498h1v1h-1zM195 498h1v1h-1zM229 498h1v1h-1zM271 498h1v1h-1zM274 498h1v1h-1zM323 498h1v1h-1zM374 498h1v1h-1zM380 498h1v1h-1zM401 498h1v1h-1zM412 498h1v1h-1zM420 498h1v1h-1zM422 498h1v1h-1zM435 498h1v1h-1zM471 498h1v1h-1zM495 498h1v1h-1zM502 498h1v1h-1zM550 498h1v1h-1zM568 498h1v1h-1zM620 498h1v1h-1zM626 498h1v1h-1zM640 498h1v1h-1zM688 498h2v1h-2zM714 498h1v1h-1zM722 498h1v1h-1zM755 498h1v1h-1zM837 498h1v1h-1zM855 498h1v1h-1zM878 498h1v1h-1zM898 498h1v1h-1zM904 498h1v1h-1zM28 499h1v1h-1zM75 499h1v1h-1zM97 499h1v1h-1zM145 499h1v1h-1zM154 499h1v1h-1zM171 499h1v1h-1zM194 499h1v1h-1zM229 499h1v1h-1zM270 499h1v1h-1zM275 499h1v1h-1zM323 499h1v1h-1zM374 499h1v1h-1zM380 499h1v1h-1zM402 499h1v1h-1zM411 499h1v1h-1zM421 499h1v1h-1zM435 499h1v1h-1zM471 499h1v1h-1zM496 499h1v1h-1zM502 499h1v1h-1zM550 499h1v1h-1zM568 499h1v1h-1zM620 499h1v1h-1zM625 499h1v1h-1zM641 499h1v1h-1zM685 499h3v1h-3zM690 499h1v1h-1zM714 499h1v1h-1zM723 499h1v1h-1zM754 499h1v1h-1zM837 499h1v1h-1zM854 499h1v1h-1zM879 499h1v1h-1zM897 499h1v1h-1zM904 499h1v1h-1zM28 500h1v1h-1zM75 500h1v1h-1zM97 500h1v1h-1zM146 500h1v1h-1zM154 500h1v1h-1zM171 500h1v1h-1zM194 500h1v1h-1zM229 500h1v1h-1zM270 500h1v1h-1zM275 500h1v1h-1zM322 500h1v1h-1zM375 500h1v1h-1zM379 500h1v1h-1zM402 500h1v1h-1zM411 500h1v1h-1zM435 500h1v1h-1zM471 500h1v1h-1zM496 500h1v1h-1zM502 500h1v1h-1zM550 500h1v1h-1zM568 500h1v1h-1zM620 500h1v1h-1zM625 500h1v1h-1zM641 500h1v1h-1zM684 500h1v1h-1zM691 500h1v1h-1zM714 500h1v1h-1zM723 500h1v1h-1zM754 500h1v1h-1zM837 500h1v1h-1zM854 500h1v1h-1zM879 500h1v1h-1zM897 500h1v1h-1zM905 500h1v1h-1zM28 501h1v1h-1zM75 501h1v1h-1zM97 501h1v1h-1zM146 501h1v1h-1zM154 501h1v1h-1zM171 501h1v1h-1zM193 501h1v1h-1zM230 501h1v1h-1zM269 501h1v1h-1zM276 501h1v1h-1zM322 501h1v1h-1zM375 501h1v1h-1zM379 501h1v1h-1zM403 501h1v1h-1zM410 501h1v1h-1zM436 501h1v1h-1zM471 501h1v1h-1zM496 501h1v1h-1zM502 501h1v1h-1zM550 501h1v1h-1zM567 501h1v1h-1zM620 501h1v1h-1zM624 501h1v1h-1zM641 501h1v1h-1zM684 501h1v1h-1zM692 501h1v1h-1zM713 501h1v1h-1zM723 501h1v1h-1zM753 501h1v1h-1zM838 501h1v1h-1zM854 501h1v1h-1zM879 501h1v1h-1zM896 501h1v1h-1zM905 501h1v1h-1zM28 502h1v1h-1zM75 502h1v1h-1zM96 502h1v1h-1zM146 502h1v1h-1zM153 502h1v1h-1zM171 502h1v1h-1zM193 502h1v1h-1zM230 502h1v1h-1zM269 502h1v1h-1zM276 502h1v1h-1zM322 502h1v1h-1zM376 502h1v1h-1zM378 502h1v1h-1zM404 502h1v1h-1zM410 502h1v1h-1zM436 502h1v1h-1zM470 502h1v1h-1zM496 502h1v1h-1zM501 502h1v1h-1zM551 502h1v1h-1zM567 502h1v1h-1zM621 502h3v1h-3zM642 502h1v1h-1zM653 502h3v1h-3zM683 502h1v1h-1zM693 502h1v1h-1zM713 502h1v1h-1zM724 502h1v1h-1zM737 502h1v1h-1zM753 502h1v1h-1zM838 502h1v1h-1zM854 502h1v1h-1zM879 502h1v1h-1zM896 502h1v1h-1zM905 502h1v1h-1zM27 503h1v1h-1zM75 503h1v1h-1zM96 503h1v1h-1zM147 503h1v1h-1zM153 503h1v1h-1zM172 503h1v1h-1zM177 503h1v1h-1zM193 503h1v1h-1zM230 503h1v1h-1zM268 503h1v1h-1zM276 503h1v1h-1zM322 503h1v1h-1zM376 503h1v1h-1zM378 503h1v1h-1zM404 503h1v1h-1zM410 503h1v1h-1zM436 503h1v1h-1zM470 503h1v1h-1zM497 503h1v1h-1zM501 503h1v1h-1zM551 503h1v1h-1zM567 503h1v1h-1zM621 503h1v1h-1zM642 503h1v1h-1zM653 503h1v1h-1zM656 503h2v1h-2zM683 503h1v1h-1zM693 503h1v1h-1zM713 503h1v1h-1zM724 503h1v1h-1zM735 503h2v1h-2zM738 503h1v1h-1zM753 503h1v1h-1zM838 503h1v1h-1zM853 503h1v1h-1zM880 503h1v1h-1zM896 503h1v1h-1zM906 503h1v1h-1zM27 504h1v1h-1zM75 504h1v1h-1zM96 504h1v1h-1zM147 504h1v1h-1zM153 504h1v1h-1zM172 504h1v1h-1zM176 504h2v1h-2zM192 504h1v1h-1zM231 504h1v1h-1zM268 504h1v1h-1zM277 504h1v1h-1zM321 504h1v1h-1zM377 504h1v1h-1zM405 504h3v1h-3zM409 504h1v1h-1zM437 504h1v1h-1zM470 504h1v1h-1zM497 504h5v1h-5zM551 504h1v1h-1zM567 504h1v1h-1zM643 504h1v1h-1zM652 504h1v1h-1zM658 504h1v1h-1zM682 504h1v1h-1zM694 504h1v1h-1zM712 504h1v1h-1zM725 504h1v1h-1zM733 504h2v1h-2zM738 504h1v1h-1zM753 504h1v1h-1zM839 504h1v1h-1zM853 504h1v1h-1zM880 504h1v1h-1zM895 504h1v1h-1zM906 504h1v1h-1zM27 505h1v1h-1zM76 505h1v1h-1zM95 505h1v1h-1zM147 505h1v1h-1zM152 505h1v1h-1zM172 505h1v1h-1zM175 505h1v1h-1zM178 505h1v1h-1zM192 505h1v1h-1zM231 505h1v1h-1zM267 505h1v1h-1zM277 505h1v1h-1zM321 505h1v1h-1zM408 505h2v1h-2zM437 505h1v1h-1zM470 505h1v1h-1zM551 505h1v1h-1zM566 505h1v1h-1zM644 505h1v1h-1zM652 505h1v1h-1zM658 505h1v1h-1zM682 505h1v1h-1zM694 505h1v1h-1zM712 505h1v1h-1zM725 505h1v1h-1zM732 505h1v1h-1zM739 505h1v1h-1zM752 505h1v1h-1zM839 505h1v1h-1zM852 505h1v1h-1zM880 505h1v1h-1zM895 505h1v1h-1zM906 505h1v1h-1zM953 505h1v1h-1zM26 506h1v1h-1zM76 506h1v1h-1zM95 506h1v1h-1zM148 506h1v1h-1zM152 506h1v1h-1zM173 506h2v1h-2zM178 506h1v1h-1zM192 506h1v1h-1zM231 506h1v1h-1zM266 506h1v1h-1zM277 506h1v1h-1zM321 506h1v1h-1zM437 506h1v1h-1zM469 506h1v1h-1zM552 506h1v1h-1zM566 506h1v1h-1zM644 506h1v1h-1zM651 506h1v1h-1zM659 506h1v1h-1zM681 506h1v1h-1zM694 506h1v1h-1zM712 506h1v1h-1zM726 506h2v1h-2zM731 506h1v1h-1zM740 506h1v1h-1zM752 506h1v1h-1zM840 506h1v1h-1zM852 506h1v1h-1zM881 506h1v1h-1zM894 506h1v1h-1zM906 506h1v1h-1zM952 506h1v1h-1zM26 507h1v1h-1zM76 507h1v1h-1zM94 507h1v1h-1zM148 507h1v1h-1zM151 507h1v1h-1zM173 507h1v1h-1zM179 507h1v1h-1zM191 507h1v1h-1zM231 507h1v1h-1zM257 507h1v1h-1zM266 507h1v1h-1zM278 507h1v1h-1zM321 507h1v1h-1zM437 507h1v1h-1zM469 507h1v1h-1zM552 507h1v1h-1zM566 507h1v1h-1zM645 507h1v1h-1zM651 507h1v1h-1zM659 507h1v1h-1zM681 507h1v1h-1zM694 507h1v1h-1zM712 507h1v1h-1zM728 507h1v1h-1zM730 507h1v1h-1zM740 507h1v1h-1zM752 507h1v1h-1zM840 507h1v1h-1zM851 507h1v1h-1zM881 507h1v1h-1zM894 507h1v1h-1zM907 507h1v1h-1zM933 507h1v1h-1zM952 507h1v1h-1zM26 508h1v1h-1zM76 508h1v1h-1zM94 508h1v1h-1zM148 508h1v1h-1zM150 508h1v1h-1zM179 508h1v1h-1zM191 508h1v1h-1zM232 508h1v1h-1zM256 508h2v1h-2zM265 508h1v1h-1zM278 508h1v1h-1zM320 508h1v1h-1zM438 508h1v1h-1zM469 508h1v1h-1zM552 508h1v1h-1zM566 508h1v1h-1zM646 508h1v1h-1zM650 508h1v1h-1zM660 508h1v1h-1zM680 508h1v1h-1zM695 508h1v1h-1zM711 508h1v1h-1zM729 508h1v1h-1zM741 508h1v1h-1zM752 508h1v1h-1zM840 508h1v1h-1zM851 508h1v1h-1zM881 508h1v1h-1zM894 508h1v1h-1zM907 508h1v1h-1zM932 508h1v1h-1zM934 508h1v1h-1zM951 508h1v1h-1zM26 509h1v1h-1zM76 509h1v1h-1zM94 509h1v1h-1zM149 509h2v1h-2zM180 509h1v1h-1zM190 509h1v1h-1zM232 509h1v1h-1zM254 509h2v1h-2zM258 509h1v1h-1zM264 509h1v1h-1zM278 509h1v1h-1zM320 509h1v1h-1zM438 509h1v1h-1zM469 509h1v1h-1zM552 509h1v1h-1zM565 509h1v1h-1zM647 509h1v1h-1zM650 509h1v1h-1zM660 509h1v1h-1zM678 509h2v1h-2zM695 509h1v1h-1zM711 509h1v1h-1zM741 509h1v1h-1zM751 509h1v1h-1zM841 509h1v1h-1zM850 509h1v1h-1zM882 509h1v1h-1zM893 509h1v1h-1zM907 509h1v1h-1zM930 509h2v1h-2zM934 509h1v1h-1zM951 509h1v1h-1zM25 510h1v1h-1zM76 510h1v1h-1zM93 510h1v1h-1zM149 510h1v1h-1zM180 510h1v1h-1zM190 510h1v1h-1zM232 510h1v1h-1zM249 510h5v1h-5zM258 510h1v1h-1zM264 510h1v1h-1zM279 510h1v1h-1zM320 510h1v1h-1zM438 510h1v1h-1zM468 510h1v1h-1zM552 510h1v1h-1zM565 510h1v1h-1zM648 510h2v1h-2zM661 510h1v1h-1zM677 510h1v1h-1zM695 510h1v1h-1zM711 510h1v1h-1zM742 510h1v1h-1zM751 510h1v1h-1zM841 510h1v1h-1zM850 510h1v1h-1zM882 510h1v1h-1zM893 510h1v1h-1zM907 510h1v1h-1zM929 510h1v1h-1zM935 510h1v1h-1zM950 510h1v1h-1zM25 511h1v1h-1zM76 511h1v1h-1zM93 511h1v1h-1zM181 511h1v1h-1zM190 511h1v1h-1zM233 511h1v1h-1zM248 511h1v1h-1zM259 511h1v1h-1zM263 511h1v1h-1zM279 511h1v1h-1zM320 511h1v1h-1zM438 511h1v1h-1zM468 511h1v1h-1zM553 511h1v1h-1zM565 511h1v1h-1zM649 511h1v1h-1zM662 511h1v1h-1zM676 511h1v1h-1zM695 511h1v1h-1zM710 511h1v1h-1zM742 511h1v1h-1zM751 511h1v1h-1zM841 511h1v1h-1zM849 511h1v1h-1zM882 511h1v1h-1zM892 511h1v1h-1zM907 511h1v1h-1zM928 511h1v1h-1zM935 511h1v1h-1zM950 511h1v1h-1zM25 512h1v1h-1zM77 512h1v1h-1zM93 512h1v1h-1zM181 512h1v1h-1zM189 512h1v1h-1zM233 512h1v1h-1zM248 512h1v1h-1zM259 512h1v1h-1zM263 512h1v1h-1zM279 512h1v1h-1zM320 512h1v1h-1zM439 512h1v1h-1zM468 512h1v1h-1zM553 512h1v1h-1zM565 512h1v1h-1zM662 512h1v1h-1zM676 512h1v1h-1zM696 512h1v1h-1zM710 512h1v1h-1zM743 512h1v1h-1zM751 512h1v1h-1zM842 512h1v1h-1zM848 512h1v1h-1zM883 512h1v1h-1zM892 512h1v1h-1zM908 512h1v1h-1zM928 512h1v1h-1zM936 512h1v1h-1zM949 512h1v1h-1zM24 513h1v1h-1zM77 513h1v1h-1zM92 513h1v1h-1zM182 513h2v1h-2zM189 513h1v1h-1zM233 513h1v1h-1zM247 513h1v1h-1zM260 513h1v1h-1zM262 513h1v1h-1zM280 513h1v1h-1zM319 513h1v1h-1zM439 513h1v1h-1zM468 513h1v1h-1zM553 513h1v1h-1zM564 513h1v1h-1zM663 513h1v1h-1zM675 513h1v1h-1zM696 513h1v1h-1zM710 513h1v1h-1zM743 513h1v1h-1zM751 513h1v1h-1zM842 513h1v1h-1zM848 513h1v1h-1zM883 513h1v1h-1zM891 513h1v1h-1zM908 513h1v1h-1zM927 513h1v1h-1zM936 513h1v1h-1zM949 513h1v1h-1zM24 514h1v1h-1zM77 514h1v1h-1zM92 514h1v1h-1zM184 514h1v1h-1zM187 514h2v1h-2zM234 514h1v1h-1zM246 514h1v1h-1zM260 514h1v1h-1zM262 514h1v1h-1zM280 514h1v1h-1zM319 514h1v1h-1zM439 514h1v1h-1zM467 514h1v1h-1zM553 514h1v1h-1zM564 514h1v1h-1zM663 514h1v1h-1zM674 514h1v1h-1zM696 514h1v1h-1zM710 514h1v1h-1zM744 514h1v1h-1zM750 514h1v1h-1zM843 514h1v1h-1zM847 514h1v1h-1zM883 514h1v1h-1zM890 514h1v1h-1zM908 514h1v1h-1zM927 514h1v1h-1zM937 514h1v1h-1zM948 514h1v1h-1zM24 515h1v1h-1zM77 515h1v1h-1zM91 515h1v1h-1zM185 515h2v1h-2zM234 515h1v1h-1zM246 515h1v1h-1zM261 515h1v1h-1zM280 515h1v1h-1zM319 515h1v1h-1zM439 515h1v1h-1zM467 515h1v1h-1zM554 515h1v1h-1zM564 515h1v1h-1zM664 515h1v1h-1zM674 515h1v1h-1zM696 515h1v1h-1zM709 515h1v1h-1zM744 515h1v1h-1zM750 515h1v1h-1zM843 515h1v1h-1zM847 515h1v1h-1zM884 515h1v1h-1zM890 515h1v1h-1zM908 515h1v1h-1zM926 515h1v1h-1zM938 515h1v1h-1zM948 515h1v1h-1zM23 516h1v1h-1zM77 516h1v1h-1zM91 516h1v1h-1zM234 516h1v1h-1zM245 516h1v1h-1zM281 516h1v1h-1zM319 516h1v1h-1zM440 516h1v1h-1zM453 516h1v1h-1zM467 516h1v1h-1zM554 516h1v1h-1zM563 516h1v1h-1zM664 516h1v1h-1zM673 516h1v1h-1zM697 516h1v1h-1zM709 516h1v1h-1zM745 516h1v1h-1zM750 516h1v1h-1zM844 516h1v1h-1zM846 516h1v1h-1zM884 516h1v1h-1zM889 516h1v1h-1zM909 516h1v1h-1zM926 516h1v1h-1zM938 516h1v1h-1zM947 516h1v1h-1zM13 517h3v1h-3zM23 517h1v1h-1zM77 517h1v1h-1zM91 517h1v1h-1zM235 517h1v1h-1zM244 517h1v1h-1zM281 517h1v1h-1zM319 517h1v1h-1zM440 517h1v1h-1zM445 517h1v1h-1zM452 517h1v1h-1zM454 517h1v1h-1zM467 517h1v1h-1zM554 517h1v1h-1zM563 517h1v1h-1zM665 517h3v1h-3zM671 517h2v1h-2zM697 517h1v1h-1zM709 517h1v1h-1zM746 517h1v1h-1zM750 517h1v1h-1zM844 517h1v1h-1zM846 517h1v1h-1zM884 517h1v1h-1zM888 517h1v1h-1zM909 517h1v1h-1zM925 517h1v1h-1zM939 517h1v1h-1zM947 517h1v1h-1zM12 518h1v1h-1zM16 518h2v1h-2zM23 518h1v1h-1zM78 518h1v1h-1zM90 518h1v1h-1zM235 518h1v1h-1zM242 518h2v1h-2zM281 518h1v1h-1zM319 518h1v1h-1zM440 518h1v1h-1zM444 518h1v1h-1zM446 518h2v1h-2zM451 518h1v1h-1zM454 518h1v1h-1zM466 518h1v1h-1zM554 518h1v1h-1zM562 518h1v1h-1zM668 518h3v1h-3zM697 518h1v1h-1zM708 518h1v1h-1zM747 518h1v1h-1zM749 518h1v1h-1zM845 518h1v1h-1zM885 518h3v1h-3zM909 518h1v1h-1zM924 518h1v1h-1zM939 518h1v1h-1zM946 518h1v1h-1zM10 519h2v1h-2zM18 519h1v1h-1zM22 519h1v1h-1zM78 519h1v1h-1zM90 519h1v1h-1zM236 519h1v1h-1zM241 519h1v1h-1zM282 519h1v1h-1zM318 519h1v1h-1zM440 519h1v1h-1zM443 519h1v1h-1zM448 519h1v1h-1zM450 519h1v1h-1zM455 519h1v1h-1zM466 519h1v1h-1zM555 519h1v1h-1zM562 519h1v1h-1zM698 519h1v1h-1zM708 519h1v1h-1zM748 519h2v1h-2zM885 519h1v1h-1zM909 519h1v1h-1zM924 519h1v1h-1zM940 519h1v1h-1zM946 519h1v1h-1zM9 520h1v1h-1zM19 520h1v1h-1zM22 520h1v1h-1zM78 520h1v1h-1zM89 520h1v1h-1zM236 520h1v1h-1zM240 520h1v1h-1zM282 520h1v1h-1zM318 520h1v1h-1zM441 520h2v1h-2zM449 520h1v1h-1zM455 520h1v1h-1zM466 520h1v1h-1zM555 520h1v1h-1zM562 520h1v1h-1zM698 520h1v1h-1zM707 520h1v1h-1zM749 520h1v1h-1zM909 520h1v1h-1zM923 520h1v1h-1zM940 520h1v1h-1zM945 520h1v1h-1zM8 521h1v1h-1zM19 521h1v1h-1zM22 521h1v1h-1zM78 521h1v1h-1zM89 521h1v1h-1zM236 521h1v1h-1zM239 521h1v1h-1zM282 521h1v1h-1zM318 521h1v1h-1zM441 521h1v1h-1zM456 521h1v1h-1zM466 521h1v1h-1zM555 521h1v1h-1zM561 521h1v1h-1zM698 521h1v1h-1zM707 521h1v1h-1zM910 521h1v1h-1zM923 521h1v1h-1zM941 521h5v1h-5zM6 522h2v1h-2zM20 522h2v1h-2zM78 522h1v1h-1zM89 522h1v1h-1zM237 522h2v1h-2zM283 522h1v1h-1zM297 522h1v1h-1zM318 522h1v1h-1zM456 522h1v1h-1zM465 522h1v1h-1zM555 522h1v1h-1zM561 522h1v1h-1zM699 522h1v1h-1zM707 522h1v1h-1zM910 522h1v1h-1zM922 522h1v1h-1zM5 523h1v1h-1zM21 523h1v1h-1zM79 523h1v1h-1zM88 523h1v1h-1zM237 523h1v1h-1zM283 523h1v1h-1zM289 523h2v1h-2zM296 523h1v1h-1zM298 523h1v1h-1zM318 523h1v1h-1zM457 523h1v1h-1zM465 523h1v1h-1zM556 523h1v1h-1zM560 523h1v1h-1zM699 523h1v1h-1zM706 523h1v1h-1zM910 523h1v1h-1zM922 523h1v1h-1zM79 524h1v1h-1zM88 524h1v1h-1zM283 524h1v1h-1zM288 524h1v1h-1zM291 524h2v1h-2zM294 524h2v1h-2zM299 524h1v1h-1zM317 524h1v1h-1zM458 524h2v1h-2zM464 524h1v1h-1zM556 524h1v1h-1zM560 524h1v1h-1zM700 524h1v1h-1zM706 524h1v1h-1zM910 524h1v1h-1zM921 524h1v1h-1zM79 525h1v1h-1zM87 525h1v1h-1zM284 525h1v1h-1zM288 525h1v1h-1zM293 525h1v1h-1zM299 525h1v1h-1zM317 525h1v1h-1zM460 525h1v1h-1zM462 525h2v1h-2zM556 525h1v1h-1zM559 525h1v1h-1zM700 525h1v1h-1zM705 525h1v1h-1zM911 525h1v1h-1zM921 525h1v1h-1zM79 526h1v1h-1zM87 526h1v1h-1zM284 526h1v1h-1zM287 526h1v1h-1zM300 526h1v1h-1zM304 526h2v1h-2zM317 526h1v1h-1zM461 526h1v1h-1zM556 526h1v1h-1zM558 526h1v1h-1zM700 526h1v1h-1zM705 526h1v1h-1zM911 526h1v1h-1zM921 526h1v1h-1zM79 527h1v1h-1zM86 527h1v1h-1zM284 527h1v1h-1zM286 527h1v1h-1zM301 527h3v1h-3zM306 527h1v1h-1zM316 527h1v1h-1zM557 527h2v1h-2zM701 527h1v1h-1zM703 527h2v1h-2zM911 527h1v1h-1zM920 527h1v1h-1zM80 528h1v1h-1zM86 528h1v1h-1zM285 528h2v1h-2zM306 528h1v1h-1zM315 528h1v1h-1zM557 528h1v1h-1zM701 528h2v1h-2zM911 528h1v1h-1zM920 528h1v1h-1zM80 529h1v1h-1zM85 529h1v1h-1zM285 529h1v1h-1zM307 529h1v1h-1zM314 529h1v1h-1zM911 529h1v1h-1zM920 529h1v1h-1zM80 530h1v1h-1zM85 530h1v1h-1zM308 530h1v1h-1zM313 530h1v1h-1zM912 530h1v1h-1zM919 530h1v1h-1zM80 531h1v1h-1zM84 531h1v1h-1zM308 531h1v1h-1zM311 531h2v1h-2zM912 531h1v1h-1zM919 531h1v1h-1zM80 532h1v1h-1zM83 532h1v1h-1zM309 532h2v1h-2zM912 532h1v1h-1zM918 532h1v1h-1zM81 533h1v1h-1zM83 533h1v1h-1zM912 533h1v1h-1zM918 533h1v1h-1zM81 534h2v1h-2zM913 534h1v1h-1zM918 534h1v1h-1zM81 535h1v1h-1zM913 535h1v1h-1zM917 535h1v1h-1zM913 536h5v1h-5z"/>
<path fill="#FF0000" d="M125 472h5v1h-5zM536 472h4v1h-4zM124 473h1v1h-1zM130 473h1v1h-1zM533 473h3v1h-3zM540 473h2v1h-2zM588 473h7v1h-7zM122 474h2v1h-2zM131 474h1v1h-1zM532 474h1v1h-1zM542 474h2v1h-2zM585 474h3v1h-3zM595 474h2v1h-2zM45 475h3v1h-3zM121 475h1v1h-1zM131 475h1v1h-1zM531 475h1v1h-1zM544 475h1v1h-1zM584 475h1v1h-1zM597 475h2v1h-2zM773 475h11v1h-11zM44 476h1v1h-1zM48 476h4v1h-4zM120 476h1v1h-1zM132 476h1v1h-1zM517 476h3v1h-3zM530 476h1v1h-1zM545 476h1v1h-1zM582 476h2v1h-2zM599 476h2v1h-2zM771 476h2v1h-2zM784 476h2v1h-2zM809 476h3v1h-3zM42 477h2v1h-2zM52 477h3v1h-3zM64 477h4v1h-4zM119 477h1v1h-1zM133 477h1v1h-1zM344 477h3v1h-3zM516 477h1v1h-1zM520 477h4v1h-4zM528 477h2v1h-2zM546 477h1v1h-1zM581 477h1v1h-1zM601 477h2v1h-2zM769 477h2v1h-2zM786 477h2v1h-2zM808 477h1v1h-1zM812 477h2v1h-2zM41 478h1v1h-1zM55 478h2v1h-2zM60 478h4v1h-4zM68 478h2v1h-2zM118 478h1v1h-1zM134 478h1v1h-1zM341 478h3v1h-3zM347 478h2v1h-2zM488 478h2v1h-2zM515 478h1v1h-1zM524 478h4v1h-4zM546 478h1v1h-1zM580 478h1v1h-1zM603 478h2v1h-2zM608 478h6v1h-6zM768 478h1v1h-1zM788 478h1v1h-1zM807 478h1v1h-1zM814 478h1v1h-1zM40 479h1v1h-1zM57 479h3v1h-3zM70 479h2v1h-2zM117 479h1v1h-1zM135 479h1v1h-1zM339 479h2v1h-2zM349 479h1v1h-1zM485 479h3v1h-3zM490 479h2v1h-2zM514 479h1v1h-1zM547 479h1v1h-1zM580 479h1v1h-1zM605 479h3v1h-3zM614 479h2v1h-2zM768 479h1v1h-1zM789 479h1v1h-1zM806 479h1v1h-1zM815 479h1v1h-1zM40 480h1v1h-1zM72 480h1v1h-1zM116 480h1v1h-1zM136 480h1v1h-1zM337 480h2v1h-2zM350 480h2v1h-2zM484 480h1v1h-1zM492 480h1v1h-1zM513 480h1v1h-1zM547 480h1v1h-1zM579 480h1v1h-1zM616 480h1v1h-1zM767 480h1v1h-1zM790 480h1v1h-1zM805 480h1v1h-1zM816 480h1v1h-1zM39 481h1v1h-1zM73 481h1v1h-1zM114 481h2v1h-2zM137 481h1v1h-1zM336 481h1v1h-1zM352 481h1v1h-1zM482 481h2v1h-2zM493 481h1v1h-1zM513 481h1v1h-1zM548 481h1v1h-1zM579 481h1v1h-1zM617 481h1v1h-1zM766 481h1v1h-1zM790 481h1v1h-1zM804 481h1v1h-1zM817 481h2v1h-2zM828 481h3v1h-3zM39 482h1v1h-1zM73 482h1v1h-1zM113 482h1v1h-1zM138 482h1v1h-1zM165 482h1v1h-1zM335 482h1v1h-1zM353 482h1v1h-1zM481 482h1v1h-1zM493 482h1v1h-1zM512 482h1v1h-1zM548 482h1v1h-1zM578 482h1v1h-1zM617 482h1v1h-1zM766 482h1v1h-1zM791 482h1v1h-1zM804 482h1v1h-1zM819 482h2v1h-2zM824 482h4v1h-4zM831 482h2v1h-2zM38 483h1v1h-1zM74 483h1v1h-1zM112 483h1v1h-1zM139 483h1v1h-1zM165 483h3v1h-3zM335 483h1v1h-1zM354 483h1v1h-1zM481 483h1v1h-1zM494 483h1v1h-1zM512 483h1v1h-1zM549 483h1v1h-1zM578 483h1v1h-1zM618 483h1v1h-1zM765 483h1v1h-1zM792 483h1v1h-1zM803 483h1v1h-1zM821 483h3v1h-3zM833 483h1v1h-1zM38 484h1v1h-1zM74 484h1v1h-1zM111 484h1v1h-1zM139 484h1v1h-1zM164 484h1v1h-1zM168 484h1v1h-1zM209 484h1v1h-1zM334 484h1v1h-1zM355 484h1v1h-1zM480 484h1v1h-1zM494 484h1v1h-1zM511 484h1v1h-1zM549 484h1v1h-1zM577 484h1v1h-1zM618 484h1v1h-1zM637 484h1v1h-1zM765 484h1v1h-1zM792 484h1v1h-1zM803 484h1v1h-1zM834 484h1v1h-1zM37 485h1v1h-1zM74 485h1v1h-1zM110 485h1v1h-1zM140 485h1v1h-1zM164 485h1v1h-1zM169 485h1v1h-1zM208 485h1v1h-1zM210 485h1v1h-1zM333 485h1v1h-1zM356 485h1v1h-1zM480 485h1v1h-1zM495 485h1v1h-1zM511 485h1v1h-1zM550 485h1v1h-1zM577 485h1v1h-1zM619 485h1v1h-1zM636 485h1v1h-1zM638 485h1v1h-1zM764 485h1v1h-1zM793 485h1v1h-1zM802 485h1v1h-1zM834 485h1v1h-1zM37 486h1v1h-1zM74 486h1v1h-1zM109 486h1v1h-1zM141 486h1v1h-1zM163 486h1v1h-1zM169 486h1v1h-1zM206 486h2v1h-2zM210 486h1v1h-1zM332 486h1v1h-1zM357 486h1v1h-1zM480 486h1v1h-1zM495 486h1v1h-1zM510 486h1v1h-1zM550 486h1v1h-1zM576 486h1v1h-1zM619 486h1v1h-1zM635 486h1v1h-1zM639 486h1v1h-1zM764 486h1v1h-1zM794 486h1v1h-1zM802 486h1v1h-1zM835 486h1v1h-1zM36 487h1v1h-1zM75 487h1v1h-1zM108 487h1v1h-1zM142 487h1v1h-1zM163 487h1v1h-1zM170 487h1v1h-1zM205 487h1v1h-1zM211 487h1v1h-1zM332 487h1v1h-1zM358 487h1v1h-1zM479 487h1v1h-1zM496 487h1v1h-1zM510 487h1v1h-1zM550 487h1v1h-1zM576 487h1v1h-1zM620 487h1v1h-1zM635 487h1v1h-1zM640 487h1v1h-1zM763 487h1v1h-1zM795 487h1v1h-1zM801 487h1v1h-1zM835 487h1v1h-1zM36 488h1v1h-1zM75 488h1v1h-1zM108 488h1v1h-1zM143 488h1v1h-1zM162 488h1v1h-1zM170 488h1v1h-1zM204 488h1v1h-1zM212 488h1v1h-1zM331 488h1v1h-1zM359 488h1v1h-1zM397 488h2v1h-2zM479 488h1v1h-1zM496 488h1v1h-1zM509 488h1v1h-1zM551 488h1v1h-1zM576 488h1v1h-1zM620 488h1v1h-1zM634 488h1v1h-1zM641 488h1v1h-1zM763 488h1v1h-1zM795 488h1v1h-1zM800 488h1v1h-1zM836 488h1v1h-1zM36 489h1v1h-1zM75 489h1v1h-1zM107 489h1v1h-1zM144 489h1v1h-1zM162 489h1v1h-1zM171 489h1v1h-1zM204 489h1v1h-1zM212 489h1v1h-1zM331 489h1v1h-1zM360 489h1v1h-1zM396 489h1v1h-1zM399 489h2v1h-2zM433 489h1v1h-1zM478 489h1v1h-1zM497 489h1v1h-1zM509 489h1v1h-1zM551 489h1v1h-1zM575 489h1v1h-1zM621 489h1v1h-1zM633 489h1v1h-1zM641 489h1v1h-1zM762 489h1v1h-1zM796 489h1v1h-1zM798 489h2v1h-2zM836 489h1v1h-1zM35 490h1v1h-1zM75 490h1v1h-1zM107 490h1v1h-1zM145 490h1v1h-1zM161 490h1v1h-1zM171 490h1v1h-1zM203 490h1v1h-1zM213 490h1v1h-1zM330 490h1v1h-1zM361 490h1v1h-1zM395 490h1v1h-1zM401 490h1v1h-1zM431 490h2v1h-2zM434 490h1v1h-1zM478 490h1v1h-1zM497 490h1v1h-1zM509 490h1v1h-1zM551 490h1v1h-1zM575 490h1v1h-1zM621 490h1v1h-1zM632 490h1v1h-1zM642 490h1v1h-1zM762 490h1v1h-1zM797 490h1v1h-1zM837 490h1v1h-1zM35 491h1v1h-1zM76 491h1v1h-1zM106 491h1v1h-1zM145 491h1v1h-1zM161 491h1v1h-1zM171 491h1v1h-1zM203 491h1v1h-1zM214 491h2v1h-2zM225 491h3v1h-3zM330 491h1v1h-1zM362 491h2v1h-2zM394 491h1v1h-1zM402 491h1v1h-1zM429 491h2v1h-2zM435 491h1v1h-1zM478 491h1v1h-1zM497 491h1v1h-1zM508 491h1v1h-1zM552 491h1v1h-1zM575 491h1v1h-1zM622 491h1v1h-1zM632 491h1v1h-1zM642 491h1v1h-1zM761 491h1v1h-1zM837 491h1v1h-1zM35 492h1v1h-1zM76 492h1v1h-1zM106 492h1v1h-1zM146 492h1v1h-1zM161 492h1v1h-1zM172 492h1v1h-1zM202 492h1v1h-1zM216 492h1v1h-1zM224 492h1v1h-1zM228 492h2v1h-2zM329 492h1v1h-1zM364 492h1v1h-1zM393 492h1v1h-1zM402 492h1v1h-1zM428 492h1v1h-1zM436 492h1v1h-1zM477 492h1v1h-1zM498 492h1v1h-1zM508 492h1v1h-1zM552 492h1v1h-1zM574 492h1v1h-1zM622 492h1v1h-1zM631 492h1v1h-1zM643 492h1v1h-1zM761 492h1v1h-1zM838 492h1v1h-1zM873 492h5v1h-5zM34 493h1v1h-1zM76 493h1v1h-1zM105 493h1v1h-1zM146 493h1v1h-1zM160 493h1v1h-1zM172 493h1v1h-1zM202 493h1v1h-1zM217 493h3v1h-3zM222 493h2v1h-2zM230 493h1v1h-1zM329 493h1v1h-1zM365 493h2v1h-2zM392 493h1v1h-1zM403 493h1v1h-1zM428 493h1v1h-1zM437 493h1v1h-1zM477 493h1v1h-1zM498 493h1v1h-1zM507 493h1v1h-1zM552 493h1v1h-1zM574 493h1v1h-1zM623 493h1v1h-1zM631 493h1v1h-1zM643 493h1v1h-1zM761 493h1v1h-1zM838 493h1v1h-1zM865 493h3v1h-3zM871 493h2v1h-2zM878 493h1v1h-1zM34 494h1v1h-1zM76 494h1v1h-1zM105 494h1v1h-1zM147 494h1v1h-1zM160 494h1v1h-1zM173 494h1v1h-1zM201 494h1v1h-1zM220 494h2v1h-2zM230 494h1v1h-1zM328 494h1v1h-1zM367 494h2v1h-2zM390 494h2v1h-2zM404 494h1v1h-1zM427 494h1v1h-1zM437 494h1v1h-1zM477 494h1v1h-1zM499 494h1v1h-1zM507 494h1v1h-1zM553 494h1v1h-1zM574 494h1v1h-1zM623 494h1v1h-1zM630 494h1v1h-1zM644 494h1v1h-1zM760 494h1v1h-1zM839 494h1v1h-1zM864 494h1v1h-1zM868 494h3v1h-3zM879 494h1v1h-1zM34 495h1v1h-1zM77 495h1v1h-1zM105 495h1v1h-1zM147 495h1v1h-1zM159 495h1v1h-1zM173 495h1v1h-1zM201 495h1v1h-1zM231 495h1v1h-1zM328 495h1v1h-1zM369 495h3v1h-3zM389 495h1v1h-1zM404 495h1v1h-1zM426 495h1v1h-1zM438 495h1v1h-1zM476 495h1v1h-1zM499 495h1v1h-1zM507 495h1v1h-1zM553 495h1v1h-1zM573 495h1v1h-1zM624 495h1v1h-1zM630 495h1v1h-1zM644 495h1v1h-1zM760 495h1v1h-1zM839 495h1v1h-1zM862 495h2v1h-2zM880 495h1v1h-1zM33 496h1v1h-1zM77 496h1v1h-1zM104 496h1v1h-1zM148 496h1v1h-1zM159 496h1v1h-1zM174 496h1v1h-1zM200 496h1v1h-1zM231 496h1v1h-1zM328 496h1v1h-1zM372 496h2v1h-2zM388 496h1v1h-1zM405 496h1v1h-1zM426 496h1v1h-1zM438 496h1v1h-1zM476 496h1v1h-1zM500 496h1v1h-1zM506 496h1v1h-1zM553 496h1v1h-1zM573 496h1v1h-1zM624 496h1v1h-1zM628 496h2v1h-2zM645 496h1v1h-1zM721 496h5v1h-5zM760 496h1v1h-1zM839 496h1v1h-1zM861 496h1v1h-1zM881 496h1v1h-1zM33 497h1v1h-1zM77 497h1v1h-1zM104 497h1v1h-1zM148 497h1v1h-1zM158 497h1v1h-1zM174 497h1v1h-1zM200 497h1v1h-1zM232 497h1v1h-1zM327 497h1v1h-1zM374 497h2v1h-2zM387 497h1v1h-1zM406 497h1v1h-1zM421 497h5v1h-5zM438 497h1v1h-1zM476 497h1v1h-1zM500 497h1v1h-1zM506 497h1v1h-1zM553 497h1v1h-1zM573 497h1v1h-1zM625 497h3v1h-3zM645 497h1v1h-1zM720 497h1v1h-1zM726 497h1v1h-1zM759 497h1v1h-1zM840 497h1v1h-1zM860 497h1v1h-1zM881 497h1v1h-1zM33 498h1v1h-1zM77 498h1v1h-1zM103 498h1v1h-1zM149 498h1v1h-1zM158 498h1v1h-1zM175 498h1v1h-1zM199 498h1v1h-1zM232 498h1v1h-1zM327 498h1v1h-1zM376 498h1v1h-1zM386 498h1v1h-1zM406 498h1v1h-1zM419 498h2v1h-2zM439 498h1v1h-1zM476 498h1v1h-1zM501 498h1v1h-1zM505 498h1v1h-1zM554 498h1v1h-1zM572 498h1v1h-1zM645 498h1v1h-1zM720 498h1v1h-1zM726 498h1v1h-1zM759 498h1v1h-1zM840 498h1v1h-1zM860 498h1v1h-1zM882 498h1v1h-1zM905 498h1v1h-1zM32 499h1v1h-1zM78 499h1v1h-1zM103 499h1v1h-1zM150 499h1v1h-1zM157 499h1v1h-1zM175 499h1v1h-1zM199 499h1v1h-1zM233 499h1v1h-1zM327 499h1v1h-1zM377 499h3v1h-3zM384 499h2v1h-2zM407 499h1v1h-1zM417 499h2v1h-2zM439 499h1v1h-1zM475 499h1v1h-1zM501 499h5v1h-5zM554 499h1v1h-1zM572 499h1v1h-1zM646 499h1v1h-1zM719 499h1v1h-1zM727 499h1v1h-1zM759 499h1v1h-1zM841 499h1v1h-1zM859 499h1v1h-1zM882 499h1v1h-1zM904 499h1v1h-1zM906 499h1v1h-1zM32 500h1v1h-1zM78 500h1v1h-1zM102 500h1v1h-1zM150 500h1v1h-1zM157 500h1v1h-1zM176 500h1v1h-1zM198 500h1v1h-1zM233 500h1v1h-1zM327 500h1v1h-1zM380 500h4v1h-4zM408 500h1v1h-1zM415 500h2v1h-2zM439 500h1v1h-1zM475 500h1v1h-1zM554 500h1v1h-1zM572 500h1v1h-1zM646 500h1v1h-1zM692 500h2v1h-2zM719 500h1v1h-1zM727 500h1v1h-1zM759 500h1v1h-1zM841 500h1v1h-1zM858 500h1v1h-1zM882 500h1v1h-1zM902 500h2v1h-2zM906 500h1v1h-1zM32 501h1v1h-1zM78 501h1v1h-1zM102 501h1v1h-1zM151 501h1v1h-1zM156 501h1v1h-1zM176 501h1v1h-1zM198 501h1v1h-1zM234 501h1v1h-1zM273 501h5v1h-5zM326 501h1v1h-1zM408 501h1v1h-1zM412 501h3v1h-3zM440 501h1v1h-1zM475 501h1v1h-1zM554 501h1v1h-1zM572 501h1v1h-1zM647 501h1v1h-1zM689 501h3v1h-3zM694 501h1v1h-1zM718 501h1v1h-1zM728 501h1v1h-1zM758 501h1v1h-1zM841 501h1v1h-1zM858 501h1v1h-1zM883 501h1v1h-1zM901 501h1v1h-1zM907 501h1v1h-1zM31 502h1v1h-1zM78 502h1v1h-1zM101 502h1v1h-1zM152 502h1v1h-1zM155 502h1v1h-1zM177 502h1v1h-1zM197 502h1v1h-1zM234 502h1v1h-1zM272 502h1v1h-1zM278 502h1v1h-1zM326 502h1v1h-1zM409 502h3v1h-3zM440 502h1v1h-1zM474 502h1v1h-1zM555 502h1v1h-1zM571 502h1v1h-1zM647 502h1v1h-1zM688 502h1v1h-1zM695 502h1v1h-1zM718 502h1v1h-1zM728 502h1v1h-1zM758 502h1v1h-1zM842 502h1v1h-1zM857 502h1v1h-1zM883 502h1v1h-1zM900 502h1v1h-1zM907 502h1v1h-1zM31 503h1v1h-1zM79 503h1v1h-1zM101 503h1v1h-1zM152 503h1v1h-1zM154 503h1v1h-1zM178 503h1v1h-1zM197 503h1v1h-1zM234 503h1v1h-1zM272 503h1v1h-1zM279 503h1v1h-1zM326 503h1v1h-1zM440 503h1v1h-1zM474 503h1v1h-1zM555 503h1v1h-1zM571 503h1v1h-1zM648 503h1v1h-1zM687 503h1v1h-1zM695 503h1v1h-1zM717 503h1v1h-1zM729 503h1v1h-1zM758 503h1v1h-1zM842 503h1v1h-1zM856 503h1v1h-1zM884 503h1v1h-1zM900 503h1v1h-1zM908 503h1v1h-1zM30 504h1v1h-1zM79 504h1v1h-1zM101 504h1v1h-1zM153 504h1v1h-1zM179 504h1v1h-1zM196 504h1v1h-1zM235 504h1v1h-1zM271 504h1v1h-1zM279 504h1v1h-1zM325 504h1v1h-1zM441 504h1v1h-1zM474 504h1v1h-1zM555 504h1v1h-1zM571 504h1v1h-1zM648 504h1v1h-1zM660 504h2v1h-2zM686 504h1v1h-1zM696 504h1v1h-1zM717 504h1v1h-1zM730 504h2v1h-2zM757 504h1v1h-1zM843 504h1v1h-1zM856 504h1v1h-1zM884 504h1v1h-1zM899 504h1v1h-1zM908 504h1v1h-1zM30 505h1v1h-1zM79 505h1v1h-1zM100 505h1v1h-1zM179 505h1v1h-1zM196 505h1v1h-1zM235 505h1v1h-1zM271 505h1v1h-1zM280 505h1v1h-1zM325 505h1v1h-1zM441 505h1v1h-1zM474 505h1v1h-1zM555 505h1v1h-1zM571 505h1v1h-1zM649 505h1v1h-1zM656 505h4v1h-4zM662 505h1v1h-1zM685 505h1v1h-1zM697 505h1v1h-1zM716 505h1v1h-1zM732 505h1v1h-1zM736 505h6v1h-6zM757 505h1v1h-1zM843 505h1v1h-1zM855 505h1v1h-1zM884 505h1v1h-1zM899 505h1v1h-1zM909 505h1v1h-1zM30 506h1v1h-1zM79 506h1v1h-1zM100 506h1v1h-1zM180 506h1v1h-1zM195 506h1v1h-1zM235 506h1v1h-1zM270 506h1v1h-1zM281 506h1v1h-1zM325 506h1v1h-1zM441 506h1v1h-1zM473 506h1v1h-1zM556 506h1v1h-1zM570 506h1v1h-1zM649 506h7v1h-7zM662 506h1v1h-1zM684 506h1v1h-1zM697 506h1v1h-1zM716 506h1v1h-1zM733 506h3v1h-3zM742 506h1v1h-1zM756 506h1v1h-1zM844 506h1v1h-1zM855 506h1v1h-1zM885 506h1v1h-1zM898 506h1v1h-1zM909 506h1v1h-1zM29 507h1v1h-1zM80 507h1v1h-1zM100 507h1v1h-1zM181 507h2v1h-2zM195 507h1v1h-1zM236 507h1v1h-1zM270 507h1v1h-1zM281 507h1v1h-1zM324 507h1v1h-1zM442 507h1v1h-1zM473 507h1v1h-1zM556 507h1v1h-1zM570 507h1v1h-1zM663 507h1v1h-1zM683 507h1v1h-1zM698 507h1v1h-1zM716 507h1v1h-1zM743 507h1v1h-1zM756 507h1v1h-1zM844 507h1v1h-1zM854 507h1v1h-1zM885 507h1v1h-1zM898 507h1v1h-1zM910 507h1v1h-1zM29 508h1v1h-1zM80 508h1v1h-1zM99 508h1v1h-1zM183 508h2v1h-2zM194 508h1v1h-1zM236 508h1v1h-1zM268 508h2v1h-2zM282 508h1v1h-1zM324 508h1v1h-1zM442 508h1v1h-1zM473 508h1v1h-1zM556 508h1v1h-1zM570 508h1v1h-1zM664 508h1v1h-1zM683 508h1v1h-1zM698 508h1v1h-1zM715 508h1v1h-1zM744 508h1v1h-1zM755 508h1v1h-1zM845 508h1v1h-1zM854 508h1v1h-1zM886 508h1v1h-1zM897 508h1v1h-1zM910 508h1v1h-1zM29 509h1v1h-1zM80 509h1v1h-1zM99 509h1v1h-1zM185 509h1v1h-1zM194 509h1v1h-1zM236 509h1v1h-1zM257 509h2v1h-2zM265 509h3v1h-3zM282 509h1v1h-1zM324 509h1v1h-1zM443 509h1v1h-1zM472 509h1v1h-1zM556 509h1v1h-1zM570 509h1v1h-1zM664 509h1v1h-1zM682 509h1v1h-1zM698 509h1v1h-1zM715 509h1v1h-1zM745 509h1v1h-1zM755 509h1v1h-1zM845 509h1v1h-1zM853 509h1v1h-1zM886 509h1v1h-1zM896 509h1v1h-1zM910 509h1v1h-1zM28 510h1v1h-1zM80 510h1v1h-1zM99 510h1v1h-1zM186 510h1v1h-1zM193 510h1v1h-1zM237 510h1v1h-1zM256 510h1v1h-1zM259 510h2v1h-2zM263 510h2v1h-2zM282 510h1v1h-1zM324 510h1v1h-1zM443 510h1v1h-1zM472 510h1v1h-1zM557 510h1v1h-1zM569 510h1v1h-1zM665 510h1v1h-1zM681 510h1v1h-1zM699 510h1v1h-1zM715 510h1v1h-1zM746 510h1v1h-1zM754 510h1v1h-1zM846 510h1v1h-1zM853 510h1v1h-1zM887 510h1v1h-1zM896 510h1v1h-1zM911 510h1v1h-1zM28 511h1v1h-1zM81 511h1v1h-1zM98 511h1v1h-1zM187 511h1v1h-1zM192 511h1v1h-1zM237 511h1v1h-1zM254 511h2v1h-2zM261 511h2v1h-2zM283 511h1v1h-1zM323 511h1v1h-1zM444 511h1v1h-1zM472 511h1v1h-1zM557 511h1v1h-1zM569 511h1v1h-1zM666 511h1v1h-1zM680 511h1v1h-1zM699 511h1v1h-1zM714 511h1v1h-1zM746 511h1v1h-1zM754 511h1v1h-1zM847 511h1v1h-1zM852 511h1v1h-1zM887 511h1v1h-1zM895 511h1v1h-1zM911 511h1v1h-1zM936 511h2v1h-2zM27 512h1v1h-1zM81 512h1v1h-1zM98 512h1v1h-1zM187 512h1v1h-1zM191 512h1v1h-1zM238 512h1v1h-1zM253 512h1v1h-1zM283 512h1v1h-1zM323 512h1v1h-1zM444 512h1v1h-1zM471 512h1v1h-1zM557 512h1v1h-1zM569 512h1v1h-1zM667 512h1v1h-1zM679 512h1v1h-1zM700 512h1v1h-1zM714 512h1v1h-1zM747 512h1v1h-1zM753 512h1v1h-1zM848 512h1v1h-1zM850 512h2v1h-2zM888 512h1v1h-1zM895 512h1v1h-1zM911 512h1v1h-1zM933 512h3v1h-3zM938 512h2v1h-2zM27 513h1v1h-1zM81 513h1v1h-1zM98 513h1v1h-1zM188 513h1v1h-1zM190 513h1v1h-1zM238 513h1v1h-1zM252 513h1v1h-1zM284 513h1v1h-1zM323 513h1v1h-1zM445 513h1v1h-1zM471 513h1v1h-1zM557 513h1v1h-1zM568 513h1v1h-1zM668 513h1v1h-1zM678 513h1v1h-1zM700 513h1v1h-1zM714 513h1v1h-1zM748 513h1v1h-1zM752 513h1v1h-1zM849 513h1v1h-1zM888 513h1v1h-1zM894 513h1v1h-1zM911 513h1v1h-1zM932 513h1v1h-1zM940 513h1v1h-1zM953 513h1v1h-1zM26 514h1v1h-1zM81 514h1v1h-1zM97 514h1v1h-1zM189 514h1v1h-1zM239 514h1v1h-1zM250 514h2v1h-2zM284 514h1v1h-1zM323 514h1v1h-1zM445 514h1v1h-1zM471 514h1v1h-1zM558 514h1v1h-1zM568 514h1v1h-1zM669 514h2v1h-2zM677 514h1v1h-1zM700 514h1v1h-1zM713 514h1v1h-1zM748 514h1v1h-1zM750 514h2v1h-2zM889 514h3v1h-3zM894 514h1v1h-1zM912 514h1v1h-1zM932 514h1v1h-1zM941 514h1v1h-1zM952 514h1v1h-1zM26 515h1v1h-1zM81 515h1v1h-1zM97 515h1v1h-1zM239 515h1v1h-1zM249 515h1v1h-1zM284 515h1v1h-1zM322 515h1v1h-1zM446 515h1v1h-1zM470 515h1v1h-1zM558 515h1v1h-1zM567 515h1v1h-1zM671 515h2v1h-2zM675 515h2v1h-2zM701 515h1v1h-1zM713 515h1v1h-1zM749 515h1v1h-1zM892 515h2v1h-2zM912 515h1v1h-1zM931 515h1v1h-1zM942 515h1v1h-1zM951 515h1v1h-1zM25 516h1v1h-1zM82 516h1v1h-1zM97 516h1v1h-1zM240 516h1v1h-1zM248 516h1v1h-1zM285 516h1v1h-1zM322 516h1v1h-1zM447 516h1v1h-1zM470 516h1v1h-1zM559 516h1v1h-1zM567 516h1v1h-1zM673 516h2v1h-2zM701 516h1v1h-1zM713 516h1v1h-1zM912 516h1v1h-1zM930 516h1v1h-1zM943 516h1v1h-1zM951 516h1v1h-1zM25 517h1v1h-1zM82 517h1v1h-1zM96 517h1v1h-1zM240 517h1v1h-1zM247 517h1v1h-1zM285 517h1v1h-1zM322 517h1v1h-1zM447 517h1v1h-1zM470 517h1v1h-1zM559 517h1v1h-1zM567 517h1v1h-1zM701 517h1v1h-1zM712 517h1v1h-1zM913 517h1v1h-1zM930 517h1v1h-1zM944 517h1v1h-1zM950 517h1v1h-1zM17 518h3v1h-3zM23 518h2v1h-2zM82 518h1v1h-1zM96 518h1v1h-1zM241 518h3v1h-3zM246 518h1v1h-1zM286 518h1v1h-1zM322 518h1v1h-1zM448 518h1v1h-1zM452 518h4v1h-4zM469 518h1v1h-1zM560 518h1v1h-1zM566 518h1v1h-1zM702 518h1v1h-1zM712 518h1v1h-1zM913 518h1v1h-1zM929 518h1v1h-1zM945 518h5v1h-5zM5 519h2v1h-2zM15 519h2v1h-2zM20 519h3v1h-3zM82 519h1v1h-1zM96 519h1v1h-1zM244 519h2v1h-2zM286 519h1v1h-1zM321 519h1v1h-1zM449 519h3v1h-3zM456 519h2v1h-2zM469 519h1v1h-1zM560 519h1v1h-1zM566 519h1v1h-1zM702 519h1v1h-1zM711 519h1v1h-1zM913 519h1v1h-1zM928 519h1v1h-1zM7 520h2v1h-2zM12 520h3v1h-3zM83 520h1v1h-1zM95 520h1v1h-1zM287 520h1v1h-1zM321 520h1v1h-1zM458 520h2v1h-2zM468 520h1v1h-1zM561 520h1v1h-1zM565 520h1v1h-1zM703 520h1v1h-1zM711 520h1v1h-1zM914 520h1v1h-1zM928 520h1v1h-1zM9 521h3v1h-3zM83 521h1v1h-1zM95 521h1v1h-1zM288 521h1v1h-1zM321 521h1v1h-1zM460 521h1v1h-1zM468 521h1v1h-1zM561 521h5v1h-5zM703 521h1v1h-1zM710 521h1v1h-1zM914 521h1v1h-1zM927 521h1v1h-1zM83 522h1v1h-1zM94 522h1v1h-1zM288 522h1v1h-1zM320 522h1v1h-1zM461 522h1v1h-1zM467 522h1v1h-1zM704 522h1v1h-1zM710 522h1v1h-1zM914 522h1v1h-1zM927 522h1v1h-1zM83 523h1v1h-1zM94 523h1v1h-1zM289 523h1v1h-1zM320 523h1v1h-1zM462 523h2v1h-2zM466 523h1v1h-1zM704 523h1v1h-1zM709 523h1v1h-1zM915 523h1v1h-1zM926 523h1v1h-1zM84 524h1v1h-1zM94 524h1v1h-1zM290 524h2v1h-2zM297 524h3v1h-3zM319 524h1v1h-1zM464 524h1v1h-1zM466 524h1v1h-1zM705 524h5v1h-5zM915 524h1v1h-1zM926 524h1v1h-1zM84 525h1v1h-1zM93 525h1v1h-1zM292 525h1v1h-1zM295 525h2v1h-2zM300 525h6v1h-6zM319 525h1v1h-1zM465 525h1v1h-1zM915 525h1v1h-1zM925 525h1v1h-1zM84 526h1v1h-1zM93 526h1v1h-1zM293 526h2v1h-2zM306 526h1v1h-1zM318 526h1v1h-1zM916 526h1v1h-1zM925 526h1v1h-1zM84 527h1v1h-1zM92 527h1v1h-1zM307 527h1v1h-1zM318 527h1v1h-1zM916 527h1v1h-1zM924 527h1v1h-1zM85 528h1v1h-1zM90 528h2v1h-2zM308 528h1v1h-1zM317 528h1v1h-1zM916 528h1v1h-1zM924 528h1v1h-1zM85 529h5v1h-5zM309 529h3v1h-3zM316 529h2v1h-2zM917 529h1v1h-1zM923 529h1v1h-1zM312 530h4v1h-4zM917 530h2v1h-2zM922 530h1v1h-1zM919 531h2v1h-2zM922 531h1v1h-1zM921 532h1v1h-1z"/>
</g>
<g font-size="9.3" fill="#000" stroke="#000" stroke-width=".3">
<text x="1238" y="36" textLength="33" lengthAdjust="spacingAndGlyphs">3163.00</text>
<text x="1238" y="69" textLength="33" lengthAdjust="spacingAndGlyphs">3137.50</text>
<text x="1238" y="102" textLength="33" lengthAdjust="spacingAndGlyphs">3111.25</text>
<text x="1238" y="135" textLength="33" lengthAdjust="spacingAndGlyphs">3085.00</text>
<text x="1238" y="168" textLength="33" lengthAdjust="spacingAndGlyphs">3059.50</text>
<text x="1238" y="201" textLength="33" lengthAdjust="spacingAndGlyphs">3033.25</text>
<text x="1238" y="234" textLength="33" lengthAdjust="spacingAndGlyphs">3007.75</text>
<text x="1238" y="267" textLength="33" lengthAdjust="spacingAndGlyphs">2981.50</text>
<text x="1238" y="300" textLength="33" lengthAdjust="spacingAndGlyphs">2955.25</text>
<text x="1238" y="333" textLength="33" lengthAdjust="spacingAndGlyphs">2929.75</text>
<text x="1238" y="366" textLength="33" lengthAdjust="spacingAndGlyphs">2903.50</text>
<text x="1238" y="399" textLength="33" lengthAdjust="spacingAndGlyphs">2878.00</text>
<text x="1238" y="432" textLength="33" lengthAdjust="spacingAndGlyphs">2851.75</text>
<text x="1238" y="465" textLength="33" lengthAdjust="spacingAndGlyphs">2826.25</text>
</g>
<g shape-rendering="crispEdges"><rect x="1234" y="240" width="41" height="11" fill="#000"/><rect x="1234" y="169" width="41" height="11" fill="#DC143C"/><rect x="1234" y="294" width="41" height="11" fill="#3CB371"/></g>
<g font-size="9.3" fill="#fff">
<text x="1238" y="177.6" textLength="33" lengthAdjust="spacingAndGlyphs">3050.73</text>
<text x="1238" y="248.6" textLength="33" lengthAdjust="spacingAndGlyphs">2995.70</text>
<text x="1238" y="302.6" textLength="33" lengthAdjust="spacingAndGlyphs">2952.66</text>
</g>
<rect x="1234" y="232" width="41" height="11" fill="#FF0000" shape-rendering="crispEdges"/>
<text x="1238" y="240.6" font-size="9.3" fill="#fff" textLength="33" lengthAdjust="spacingAndGlyphs">3001.30</text>
<g font-size="9.3" fill="#000" stroke="#000" stroke-width=".3">
<text x="4.5" y="557">11 Feb 2025</text>
<text x="68.5" y="557">14 Feb 08:00</text>
<text x="132.5" y="557">19 Feb 04:00</text>
<text x="196.5" y="557">21 Feb 20:00</text>
<text x="260.5" y="557">26 Feb 12:00</text>
<text x="324.5" y="557">3 Mar 04:00</text>
<text x="388.5" y="557">5 Mar 20:00</text>
<text x="452.5" y="557">10 Mar 12:00</text>
<text x="516.5" y="557">13 Mar 04:00</text>
<text x="580.5" y="557">17 Mar 20:00</text>
<text x="644.5" y="557">20 Mar 12:00</text>
<text x="708.5" y="557">25 Mar 04:00</text>
<text x="772.5" y="557">27 Mar 20:00</text>
<text x="836.5" y="557">1 Apr 12:00</text>
<text x="900.5" y="557">4 Apr 04:00</text>
<text x="1236" y="477">100</text>
<text x="1235" y="487">80</text>
<text x="1235" y="532">20</text>
<text x="1236.5" y="540.6">0</text>
<text x="20" y="16" textLength="53.8" lengthAdjust="spacingAndGlyphs">XAUUSD,H4</text>
<text x="80" y="16" textLength="140.5" lengthAdjust="spacingAndGlyphs">3005.38 3015.50 2995.45 2995.70</text>
<text x="9" y="479">Sto(5,3,3) 50.5276 40.7555</text>
</g>
<path d="M8 11h8l-4 4.5z" fill="#000"/>
</svg>
<svg width="1280" height="567" viewBox="0 0 1280 567" role="img" aria-label="economies.com FxNewsToday watermark" style="pointer-events:none">
<desc>economies.com FxNewsToday watermark</desc>
<defs><linearGradient id="gg" gradientUnits="userSpaceOnUse" x1="0" y1="368" x2="0" y2="406"><stop offset="0" stop-color="#d6d6d6"/><stop offset="1" stop-color="#eeeeee"/></linearGradient>
<linearGradient id="xg" gradientUnits="userSpaceOnUse" x1="0" y1="377" x2="0" y2="398"><stop offset="0" stop-color="#efcaca"/><stop offset=".5" stop-color="#f1d2d2"/><stop offset=".5" stop-color="#d6e8d6"/><stop offset="1" stop-color="#cfe4cf"/></linearGradient>
<filter id="wmf" x="-5%" y="-30%" width="110%" height="160%"><feMorphology in="SourceAlpha" operator="dilate" radius="1.1" result="d"/><feFlood flood-color="#fff" flood-opacity=".85"/><feComposite in2="d" operator="in" result="h"/><feMerge result="m"><feMergeNode in="h"/><feMergeNode in="SourceGraphic"/></feMerge><feGaussianBlur in="m" stdDeviation="0.55"/></filter></defs>
<g filter="url(#wmf)">
<text transform="scale(1.3201 1)" stroke-linejoin="round" vector-effect="non-scaling-stroke"><tspan x="36.60" y="359.40" font-family="'DejaVu Sans Light',sans-serif" font-weight="200" font-size="40.40" textLength="21.74" lengthAdjust="spacingAndGlyphs" fill="#fcd7c2" stroke="#fcd7c2" stroke-width="3.00">e</tspan><tspan x="56.77" y="359.40" font-family="'DejaVu Sans Light',sans-serif" font-weight="200" font-size="40.40" textLength="21.82" lengthAdjust="spacingAndGlyphs" fill="#fcd7c2" stroke="#fcd7c2" stroke-width="3.00">c</tspan><tspan x="76.62" y="359.40" font-family="'DejaVu Sans Light',sans-serif" font-weight="200" font-size="40.40" textLength="25.52" lengthAdjust="spacingAndGlyphs" fill="#fcd7c2" stroke="#fcd7c2" stroke-width="3.00">o</tspan><tspan x="99.13" y="359.40" font-family="'DejaVu Sans Light',sans-serif" font-weight="200" font-size="40.40" textLength="26.09" lengthAdjust="spacingAndGlyphs" fill="#fcd7c2" stroke="#fcd7c2" stroke-width="3.00">n</tspan><tspan x="121.00" y="359.40" font-family="'DejaVu Sans Light',sans-serif" font-weight="200" font-size="40.40" textLength="25.01" lengthAdjust="spacingAndGlyphs" fill="#fcd7c2" stroke="#fcd7c2" stroke-width="3.00">o</tspan><tspan x="143.69" y="359.40" font-family="'DejaVu Sans Light',sans-serif" font-weight="200" font-size="40.40" textLength="34.70" lengthAdjust="spacingAndGlyphs" fill="#fcd7c2" stroke="#fcd7c2" stroke-width="3.00">m</tspan><tspan x="173.78" y="359.40" font-family="'DejaVu Sans Light',sans-serif" font-weight="200" font-size="40.40" textLength="11.44" lengthAdjust="spacingAndGlyphs" fill="#fcd7c2" stroke="#fcd7c2" stroke-width="3.00">i</tspan><tspan x="182.54" y="359.40" font-family="'DejaVu Sans Light',sans-serif" font-weight="200" font-size="40.40" textLength="23.76" lengthAdjust="spacingAndGlyphs" fill="#fcd7c2" stroke="#fcd7c2" stroke-width="3.00">e</tspan><tspan x="203.39" y="359.40" font-family="'DejaVu Sans Light',sans-serif" font-weight="200" font-size="40.40" textLength="21.05" lengthAdjust="spacingAndGlyphs" fill="#fcd7c2" stroke="#fcd7c2" stroke-width="3.00">s</tspan><tspan x="218.40" y="359.10" font-family="'DejaVu Sans Light',sans-serif" font-weight="200" font-size="41.00" textLength="17.00" lengthAdjust="spacingAndGlyphs" fill="#d9d9d9" stroke="#d9d9d9" stroke-width="0.40">.</tspan><tspan x="226.90" y="359.10" font-family="'DejaVu Sans Light',sans-serif" font-weight="200" font-size="41.00" textLength="22.41" lengthAdjust="spacingAndGlyphs" fill="#d9d9d9" stroke="#d9d9d9" stroke-width="0.40">c</tspan><tspan x="244.79" y="359.10" font-family="'DejaVu Sans Light',sans-serif" font-weight="200" font-size="41.00" textLength="26.64" lengthAdjust="spacingAndGlyphs" fill="#d9d9d9" stroke="#d9d9d9" stroke-width="0.40">o</tspan><tspan x="265.52" y="359.10" font-family="'DejaVu Sans Light',sans-serif" font-weight="200" font-size="41.00" textLength="33.82" lengthAdjust="spacingAndGlyphs" fill="#d9d9d9" stroke="#d9d9d9" stroke-width="0.40">m</tspan></text>
<text transform="scale(1.0178 1)" stroke-linejoin="round" vector-effect="non-scaling-stroke"><tspan x="86.23" y="400.10" font-family="'Liberation Sans',sans-serif" font-size="43.17" textLength="22.95" lengthAdjust="spacingAndGlyphs" fill="url(#gg)" stroke="url(#gg)" stroke-width="0.80">F</tspan><tspan x="108.31" y="397.35" font-family="'DejaVu Sans Light',sans-serif" font-weight="200" font-size="36.01" textLength="25.57" lengthAdjust="spacingAndGlyphs" fill="url(#xg)" stroke="url(#xg)" stroke-width="1.30">x</tspan><tspan x="130.87" y="400.10" font-family="'Liberation Sans',sans-serif" font-size="43.17" textLength="36.43" lengthAdjust="spacingAndGlyphs" fill="url(#gg)" stroke="url(#gg)" stroke-width="0.80">N</tspan><tspan x="165.87" y="398.22" font-family="'Liberation Sans',sans-serif" font-size="37.77" textLength="20.58" lengthAdjust="spacingAndGlyphs" fill="url(#gg)" stroke="url(#gg)" stroke-width="0.80">e</tspan><tspan x="186.66" y="398.30" font-family="'Liberation Sans',sans-serif" font-size="38.07" textLength="27.52" lengthAdjust="spacingAndGlyphs" fill="url(#gg)" stroke="url(#gg)" stroke-width="0.80">w</tspan><tspan x="215.14" y="398.22" font-family="'Liberation Sans',sans-serif" font-size="37.84" textLength="17.09" lengthAdjust="spacingAndGlyphs" fill="url(#gg)" stroke="url(#gg)" stroke-width="0.80">s</tspan><tspan x="230.84" y="399.90" font-family="'Liberation Sans',sans-serif" font-size="42.88" textLength="26.19" lengthAdjust="spacingAndGlyphs" fill="url(#gg)" stroke="url(#gg)" stroke-width="0.80">T</tspan><tspan x="254.01" y="398.22" font-family="'Liberation Sans',sans-serif" font-size="37.77" textLength="24.49" lengthAdjust="spacingAndGlyphs" fill="url(#gg)" stroke="url(#gg)" stroke-width="0.80">o</tspan><tspan x="278.40" y="398.19" font-family="'Liberation Sans',sans-serif" font-size="41.09" textLength="20.28" lengthAdjust="spacingAndGlyphs" fill="url(#gg)" stroke="url(#gg)" stroke-width="0.80">d</tspan><tspan x="298.16" y="398.22" font-family="'Liberation Sans',sans-serif" font-size="37.77" textLength="18.78" lengthAdjust="spacingAndGlyphs" fill="url(#gg)" stroke="url(#gg)" stroke-width="0.80">a</tspan><tspan x="318.16" y="397.71" font-family="'Liberation Sans',sans-serif" font-size="36.96" textLength="20.50" lengthAdjust="spacingAndGlyphs" fill="url(#gg)" stroke="url(#gg)" stroke-width="0.80">y</tspan></text>
</g></svg>
</body></html>
